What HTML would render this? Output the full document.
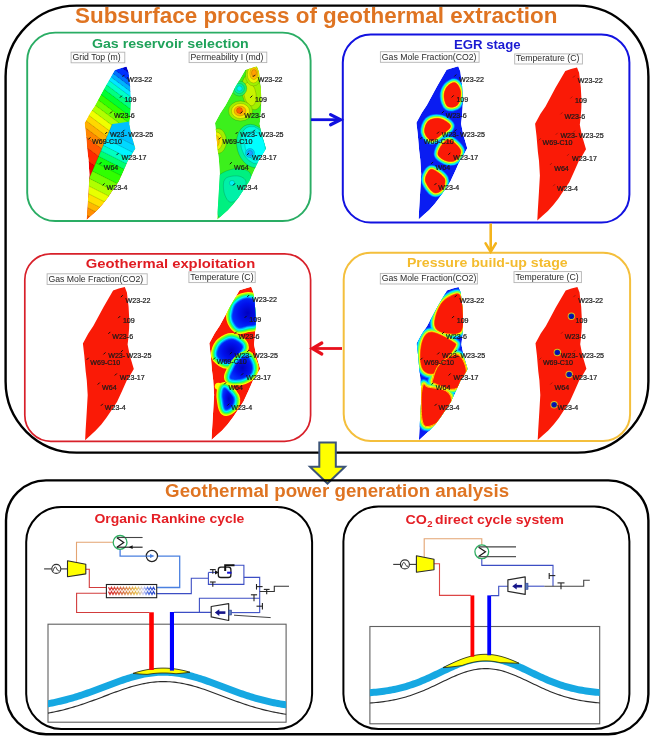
<!DOCTYPE html><html><head><meta charset="utf-8"><style>html,body{margin:0;padding:0;background:#fff;}svg{display:block}.wl{font-family:"Liberation Sans",Arial,sans-serif;font-size:7.1px;stroke:#1a1a1a;stroke-width:0.22px;}.lb{font-family:"Liberation Sans",Arial,sans-serif;font-size:8.7px;fill:#2a2a2a;}.tt{font-family:"Liberation Sans",Arial,sans-serif;font-weight:bold;}</style></head><body>
<svg width="655" height="742" viewBox="0 0 655 742">
<rect width="655" height="742" fill="#ffffff"/>
<defs>
<clipPath id="clipA"><path d="M114.8,70.1 L120.5,68.2 L126.5,66.6 L128.6,72.0 L130.3,86.4 L131.0,100.0 L130.8,108.0 L130.0,118.0 L129.3,124.0 L131.5,135.0 L135.5,148.5 L132.0,154.5 L128.4,160.0 L124.0,170.0 L118.8,181.4 L113.0,190.0 L108.1,197.4 L103.0,204.0 L97.4,210.2 L92.0,215.0 L86.8,219.8 L87.3,210.0 L88.4,192.0 L89.4,174.6 L88.5,160.0 L87.4,151.2 L86.0,135.0 L84.6,123.0 L90.0,113.0 L95.0,105.6 L105.0,87.0 Z"/></clipPath>
<clipPath id="clipB"><path d="M245.2,70.1 L250.9,68.2 L256.9,66.6 L259.0,72.0 L260.7,86.4 L261.4,100.0 L261.2,108.0 L260.4,118.0 L259.7,124.0 L261.9,135.0 L265.9,148.5 L262.4,154.5 L258.8,160.0 L254.4,170.0 L249.2,181.4 L243.4,190.0 L238.5,197.4 L233.4,204.0 L227.8,210.2 L222.4,215.0 L217.2,219.8 L217.7,210.0 L218.8,192.0 L219.8,174.6 L218.9,160.0 L217.8,151.2 L216.4,135.0 L215.0,123.0 L220.4,113.0 L225.4,105.6 L235.4,87.0 Z"/></clipPath>
<clipPath id="clipC"><path d="M446.6,69.8 L452.3,67.9 L458.3,66.3 L460.4,71.7 L462.1,86.1 L462.8,99.7 L462.6,107.7 L461.8,117.7 L461.1,123.7 L463.3,134.7 L467.3,148.2 L463.8,154.2 L460.2,159.7 L455.8,169.7 L450.6,181.1 L444.8,189.7 L439.9,197.1 L434.8,203.7 L429.2,209.9 L423.8,214.7 L418.6,219.5 L419.1,209.7 L420.2,191.7 L421.2,174.3 L420.3,159.7 L419.2,150.9 L417.8,134.7 L416.4,122.7 L421.8,112.7 L426.8,105.3 L436.8,86.7 Z"/></clipPath>
<clipPath id="clipD"><path d="M565.3,70.9 L571.0,69.0 L577.0,67.4 L579.1,72.8 L580.8,87.2 L581.5,100.8 L581.3,108.8 L580.5,118.8 L579.8,124.8 L582.0,135.8 L586.0,149.3 L582.5,155.3 L578.9,160.8 L574.5,170.8 L569.3,182.2 L563.5,190.8 L558.6,198.2 L553.5,204.8 L547.9,211.0 L542.5,215.8 L537.3,220.6 L537.8,210.8 L538.9,192.8 L539.9,175.4 L539.0,160.8 L537.9,152.0 L536.5,135.8 L535.1,123.8 L540.5,113.8 L545.5,106.4 L555.5,87.8 Z"/></clipPath>
<clipPath id="clipE"><path d="M113.1,290.5 L118.8,288.6 L124.8,287.0 L126.9,292.4 L128.6,306.8 L129.3,320.4 L129.1,328.4 L128.3,338.4 L127.6,344.4 L129.8,355.4 L133.8,368.9 L130.3,374.9 L126.7,380.4 L122.3,390.4 L117.1,401.8 L111.3,410.4 L106.4,417.8 L101.3,424.4 L95.7,430.6 L90.3,435.4 L85.1,440.2 L85.6,430.4 L86.7,412.4 L87.7,395.0 L86.8,380.4 L85.7,371.6 L84.3,355.4 L82.9,343.4 L88.3,333.4 L93.3,326.0 L103.3,307.4 Z"/></clipPath>
<clipPath id="clipF"><path d="M239.5,290.3 L245.2,288.4 L251.2,286.8 L253.3,292.2 L255.0,306.6 L255.7,320.2 L255.5,328.2 L254.7,338.2 L254.0,344.2 L256.2,355.2 L260.2,368.7 L256.7,374.7 L253.1,380.2 L248.7,390.2 L243.5,401.6 L237.7,410.2 L232.8,417.6 L227.7,424.2 L222.1,430.4 L216.7,435.2 L211.5,440.0 L212.0,430.2 L213.1,412.2 L214.1,394.8 L213.2,380.2 L212.1,371.4 L210.7,355.2 L209.3,343.2 L214.7,333.2 L219.7,325.8 L229.7,307.2 Z"/></clipPath>
<clipPath id="clipG"><path d="M446.9,290.5 L452.6,288.6 L458.6,287.0 L460.7,292.4 L462.4,306.8 L463.1,320.4 L462.9,328.4 L462.1,338.4 L461.4,344.4 L463.6,355.4 L467.6,368.9 L464.1,374.9 L460.5,380.4 L456.1,390.4 L450.9,401.8 L445.1,410.4 L440.2,417.8 L435.1,424.4 L429.5,430.6 L424.1,435.4 L418.9,440.2 L419.4,430.4 L420.5,412.4 L421.5,395.0 L420.6,380.4 L419.5,371.6 L418.1,355.4 L416.7,343.4 L422.1,333.4 L427.1,326.0 L437.1,307.4 Z"/></clipPath>
<clipPath id="clipH"><path d="M565.7,290.4 L571.4,288.5 L577.4,286.9 L579.5,292.3 L581.2,306.7 L581.9,320.3 L581.7,328.3 L580.9,338.3 L580.2,344.3 L582.4,355.3 L586.4,368.8 L582.9,374.8 L579.3,380.3 L574.9,390.3 L569.7,401.7 L563.9,410.3 L559.0,417.7 L553.9,424.3 L548.3,430.5 L542.9,435.3 L537.7,440.1 L538.2,430.3 L539.3,412.3 L540.3,394.9 L539.4,380.3 L538.3,371.5 L536.9,355.3 L535.5,343.3 L540.9,333.3 L545.9,325.9 L555.9,307.3 Z"/></clipPath>
<linearGradient id="gA1" gradientUnits="userSpaceOnUse" x1="128.0" y1="66.0" x2="62.0" y2="154.0"><stop offset="0.000" stop-color="#0000d0"/><stop offset="0.045" stop-color="#0000d0"/><stop offset="0.045" stop-color="#0030ff"/><stop offset="0.100" stop-color="#0030ff"/><stop offset="0.100" stop-color="#0070ff"/><stop offset="0.136" stop-color="#0070ff"/><stop offset="0.136" stop-color="#00b0ff"/><stop offset="0.173" stop-color="#00b0ff"/><stop offset="0.173" stop-color="#00e8ff"/><stop offset="0.209" stop-color="#00e8ff"/><stop offset="0.209" stop-color="#00ffc8"/><stop offset="0.255" stop-color="#00ffc8"/><stop offset="0.255" stop-color="#00ff80"/><stop offset="0.300" stop-color="#00ff80"/><stop offset="0.300" stop-color="#00ff30"/><stop offset="0.355" stop-color="#00ff30"/><stop offset="0.355" stop-color="#30ff00"/><stop offset="0.409" stop-color="#30ff00"/><stop offset="0.409" stop-color="#70ff00"/><stop offset="0.464" stop-color="#70ff00"/><stop offset="0.464" stop-color="#b0ff00"/><stop offset="0.518" stop-color="#b0ff00"/><stop offset="0.518" stop-color="#f0ff00"/><stop offset="0.573" stop-color="#f0ff00"/><stop offset="0.573" stop-color="#ffd800"/><stop offset="0.627" stop-color="#ffd800"/><stop offset="0.627" stop-color="#ffb000"/><stop offset="0.682" stop-color="#ffb000"/><stop offset="0.682" stop-color="#ff8800"/><stop offset="0.745" stop-color="#ff8800"/><stop offset="0.745" stop-color="#ff5800"/><stop offset="0.818" stop-color="#ff5800"/><stop offset="0.818" stop-color="#ff2800"/><stop offset="0.909" stop-color="#ff2800"/><stop offset="0.909" stop-color="#f00000"/><stop offset="1.000" stop-color="#f00000"/></linearGradient>
<linearGradient id="gA2" gradientUnits="userSpaceOnUse" x1="132.0" y1="133.0" x2="87.0" y2="222.0"><stop offset="0.000" stop-color="#00c0ff"/><stop offset="0.100" stop-color="#00c0ff"/><stop offset="0.100" stop-color="#00d8ff"/><stop offset="0.170" stop-color="#00d8ff"/><stop offset="0.170" stop-color="#00f4ff"/><stop offset="0.240" stop-color="#00f4ff"/><stop offset="0.240" stop-color="#00ffc0"/><stop offset="0.300" stop-color="#00ffc0"/><stop offset="0.300" stop-color="#00ff70"/><stop offset="0.360" stop-color="#00ff70"/><stop offset="0.360" stop-color="#10ff10"/><stop offset="0.430" stop-color="#10ff10"/><stop offset="0.430" stop-color="#30ff00"/><stop offset="0.520" stop-color="#30ff00"/><stop offset="0.520" stop-color="#70ff00"/><stop offset="0.600" stop-color="#70ff00"/><stop offset="0.600" stop-color="#b0ff00"/><stop offset="0.670" stop-color="#b0ff00"/><stop offset="0.670" stop-color="#e8ff00"/><stop offset="0.740" stop-color="#e8ff00"/><stop offset="0.740" stop-color="#ffe000"/><stop offset="0.810" stop-color="#ffe000"/><stop offset="0.810" stop-color="#ffb800"/><stop offset="0.870" stop-color="#ffb800"/><stop offset="0.870" stop-color="#ff9000"/><stop offset="0.940" stop-color="#ff9000"/><stop offset="0.940" stop-color="#ff6000"/><stop offset="1.000" stop-color="#ff6000"/></linearGradient>
<radialGradient id="radF" cx="0.55" cy="0.5" r="0.6"><stop offset="0" stop-color="#0000c0"/><stop offset="0.55" stop-color="#0010ec"/><stop offset="1" stop-color="#0034ff"/></radialGradient>
</defs>
<rect x="5.6" y="5.6" width="642.8" height="447.0" rx="71.0" ry="71.0" fill="none" stroke="#000" stroke-width="2.4"/>
<rect x="27.2" y="32.6" width="283.4" height="188.4" rx="28.0" ry="28.0" fill="none" stroke="#2aad64" stroke-width="1.9"/>
<rect x="342.8" y="34.6" width="286.6" height="188.0" rx="28.0" ry="28.0" fill="none" stroke="#1212e0" stroke-width="2.0"/>
<rect x="24.8" y="253.8" width="285.8" height="187.5" rx="26.0" ry="26.0" fill="none" stroke="#d8202a" stroke-width="1.7"/>
<rect x="343.7" y="252.8" width="286.4" height="188.1" rx="27.0" ry="27.0" fill="none" stroke="#f4bf3c" stroke-width="2.0"/>
<text x="75.0" y="23.0" class="tt" font-size="22.6" fill="#df7422" textLength="482.5" lengthAdjust="spacingAndGlyphs">Subsurface process of geothermal extraction</text>
<text x="91.9" y="48.1" class="tt" font-size="13.4" fill="#1fa25a" textLength="156.9" lengthAdjust="spacingAndGlyphs">Gas reservoir selection</text>
<text x="453.9" y="48.5" class="tt" font-size="13.0" fill="#1a1ad2" textLength="66.7" lengthAdjust="spacingAndGlyphs">EGR stage</text>
<text x="85.8" y="268.2" class="tt" font-size="13.4" fill="#e01c22" textLength="169.4" lengthAdjust="spacingAndGlyphs">Geothermal exploitation</text>
<text x="406.9" y="267.2" class="tt" font-size="13.6" fill="#f4bc2e" textLength="160.8" lengthAdjust="spacingAndGlyphs">Pressure build-up stage</text>
<line x1="311" y1="119.7" x2="340" y2="119.7" stroke="#1010e0" stroke-width="2.8"/><polyline points="330.6,114.6 340.6,119.7 330.6,124.8" fill="none" stroke="#1010e0" stroke-width="3.2" stroke-linecap="round" stroke-linejoin="miter"/>
<line x1="490.7" y1="223.5" x2="490.7" y2="250" stroke="#f4b41c" stroke-width="2.6"/><polyline points="485.6,243.4 490.7,251.8 495.8,243.4" fill="none" stroke="#f4b41c" stroke-width="2.6" stroke-linecap="round"/>
<line x1="313" y1="348.5" x2="342" y2="348.5" stroke="#e8101c" stroke-width="2.8"/><polyline points="321.8,343 312.4,348.5 321.8,354" fill="none" stroke="#e8101c" stroke-width="3.2" stroke-linecap="round"/>
<rect x="71.1" y="52.2" width="53.7" height="10.6" fill="#fdfdfd" stroke="#b4b4b4" stroke-width="0.9"/><text x="72.5" y="60.2" class="lb">Grid Top (m)</text>
<rect x="189.1" y="52.1" width="77.7" height="10.5" fill="#fdfdfd" stroke="#b4b4b4" stroke-width="0.9"/><text x="190.5" y="60.0" class="lb">Permeability I (md)</text>
<rect x="380.4" y="51.7" width="98.7" height="10.6" fill="#fdfdfd" stroke="#b4b4b4" stroke-width="0.9"/><text x="381.8" y="59.7" class="lb">Gas Mole Fraction(CO2)</text>
<rect x="514.7" y="53.9" width="67.7" height="10.1" fill="#fdfdfd" stroke="#b4b4b4" stroke-width="0.9"/><text x="516.1" y="61.4" class="lb">Temperature (C)</text>
<rect x="47.1" y="273.8" width="100.1" height="10.7" fill="#fdfdfd" stroke="#b4b4b4" stroke-width="0.9"/><text x="48.5" y="281.9" class="lb">Gas Mole Fraction(CO2)</text>
<rect x="188.9" y="271.8" width="66.3" height="10.8" fill="#fdfdfd" stroke="#b4b4b4" stroke-width="0.9"/><text x="190.3" y="280.0" class="lb">Temperature (C)</text>
<rect x="380.3" y="273.4" width="97.1" height="10.6" fill="#fdfdfd" stroke="#b4b4b4" stroke-width="0.9"/><text x="381.7" y="281.4" class="lb">Gas Mole Fraction(CO2)</text>
<rect x="514.0" y="271.6" width="67.4" height="11.0" fill="#fdfdfd" stroke="#b4b4b4" stroke-width="0.9"/><text x="515.4" y="280.0" class="lb">Temperature (C)</text>
<g clip-path="url(#clipA)">
<path d="M114.8,70.1 L120.5,68.2 L126.5,66.6 L128.6,72.0 L130.3,86.4 L131.0,100.0 L130.8,108.0 L130.0,118.0 L129.3,124.0 L131.5,135.0 L135.5,148.5 L132.0,154.5 L128.4,160.0 L124.0,170.0 L118.8,181.4 L113.0,190.0 L108.1,197.4 L103.0,204.0 L97.4,210.2 L92.0,215.0 L86.8,219.8 L87.3,210.0 L88.4,192.0 L89.4,174.6 L88.5,160.0 L87.4,151.2 L86.0,135.0 L84.6,123.0 L90.0,113.0 L95.0,105.6 L105.0,87.0 Z" fill="url(#gA1)"/>
<g stroke="#000" stroke-opacity="0.32" stroke-width="0.5"><line x1="189.0" y1="118.0" x2="61.0" y2="22.0"/><line x1="185.4" y1="122.8" x2="57.4" y2="26.8"/><line x1="183.0" y1="126.0" x2="55.0" y2="30.0"/><line x1="180.6" y1="129.2" x2="52.6" y2="33.2"/><line x1="178.2" y1="132.4" x2="50.2" y2="36.4"/><line x1="175.2" y1="136.4" x2="47.2" y2="40.4"/><line x1="172.2" y1="140.4" x2="44.2" y2="44.4"/><line x1="168.6" y1="145.2" x2="40.6" y2="49.2"/><line x1="165.0" y1="150.0" x2="37.0" y2="54.0"/><line x1="161.4" y1="154.8" x2="33.4" y2="58.8"/><line x1="157.8" y1="159.6" x2="29.8" y2="63.6"/><line x1="154.2" y1="164.4" x2="26.2" y2="68.4"/><line x1="150.6" y1="169.2" x2="22.6" y2="73.2"/><line x1="147.0" y1="174.0" x2="19.0" y2="78.0"/><line x1="142.8" y1="179.6" x2="14.8" y2="83.6"/><line x1="138.0" y1="186.0" x2="10.0" y2="90.0"/><line x1="132.0" y1="194.0" x2="4.0" y2="98.0"/></g>
<polygon points="129.3,121.5 131.5,135.0 135.5,148.5 132.0,154.5 128.4,160.0 124.0,170.0 118.8,181.4 113.0,190.0 108.1,197.4 103.0,204.0 97.4,210.2 92.0,215.0 86.8,219.8 86.0,222.0 84.0,222.0 87.3,210.0 88.4,192.0 89.4,177.8 112.3,124.1 120.0,123.0" fill="url(#gA2)"/>
<clipPath id="clipLB"><polygon points="129.3,121.5 131.5,135.0 135.5,148.5 132.0,154.5 128.4,160.0 124.0,170.0 118.8,181.4 113.0,190.0 108.1,197.4 103.0,204.0 97.4,210.2 92.0,215.0 86.8,219.8 86.0,222.0 84.0,222.0 87.3,210.0 88.4,192.0 89.4,177.8 112.3,124.1 120.0,123.0"/></clipPath>
<g clip-path="url(#clipLB)" stroke="#000" stroke-opacity="0.32" stroke-width="0.5"><line x1="198.9" y1="178.0" x2="56.1" y2="105.8"/><line x1="195.7" y1="184.2" x2="53.0" y2="112.0"/><line x1="192.6" y1="190.5" x2="49.8" y2="118.3"/><line x1="189.9" y1="195.8" x2="47.1" y2="123.6"/><line x1="187.2" y1="201.1" x2="44.4" y2="128.9"/><line x1="184.0" y1="207.4" x2="41.3" y2="135.2"/><line x1="180.0" y1="215.4" x2="37.2" y2="143.2"/><line x1="176.4" y1="222.5" x2="33.6" y2="150.3"/><line x1="173.2" y1="228.7" x2="30.5" y2="156.5"/><line x1="170.1" y1="235.0" x2="27.3" y2="162.8"/><line x1="166.9" y1="241.2" x2="24.2" y2="169.0"/><line x1="164.2" y1="246.5" x2="21.5" y2="174.3"/><line x1="161.1" y1="252.8" x2="18.3" y2="180.6"/></g>
<polyline points="112.3,124.1 89.4,177.8" fill="none" stroke="#000" stroke-opacity="0.32" stroke-width="0.5"/>
</g>
<g clip-path="url(#clipB)">
<path d="M245.2,70.1 L250.9,68.2 L256.9,66.6 L259.0,72.0 L260.7,86.4 L261.4,100.0 L261.2,108.0 L260.4,118.0 L259.7,124.0 L261.9,135.0 L265.9,148.5 L262.4,154.5 L258.8,160.0 L254.4,170.0 L249.2,181.4 L243.4,190.0 L238.5,197.4 L233.4,204.0 L227.8,210.2 L222.4,215.0 L217.2,219.8 L217.7,210.0 L218.8,192.0 L219.8,174.6 L218.9,160.0 L217.8,151.2 L216.4,135.0 L215.0,123.0 L220.4,113.0 L225.4,105.6 L235.4,87.0 Z" fill="#3cf01c"/>
<ellipse cx="252.0" cy="92.0" rx="10.0" ry="18.0" fill="#a0f000" transform="rotate(-10.0 252.0 92.0)" stroke="#000" stroke-opacity="0.3" stroke-width="0.5"/>
<ellipse cx="250.0" cy="94.0" rx="6.0" ry="12.0" fill="#c8f400" transform="rotate(-10.0 250.0 94.0)" stroke="#000" stroke-opacity="0.3" stroke-width="0.5"/>
<ellipse cx="253.4" cy="75.0" rx="8.0" ry="11.0" fill="#a0f000" transform="rotate(0.0 253.4 75.0)" stroke="#000" stroke-opacity="0.3" stroke-width="0.5"/><ellipse cx="253.4" cy="74.5" rx="6.0" ry="8.5" fill="#f0f000" transform="rotate(0.0 253.4 74.5)" stroke="#000" stroke-opacity="0.3" stroke-width="0.5"/><ellipse cx="253.8" cy="73.5" rx="4.0" ry="6.0" fill="#ffc000" transform="rotate(0.0 253.8 73.5)" stroke="#000" stroke-opacity="0.3" stroke-width="0.5"/><ellipse cx="254.0" cy="73.0" rx="2.5" ry="3.5" fill="#ffa000" transform="rotate(0.0 254.0 73.0)" stroke="#000" stroke-opacity="0.3" stroke-width="0.5"/>
<ellipse cx="239.3" cy="88.5" rx="7.5" ry="7.5" fill="#20f060" opacity="1.00" stroke="#000" stroke-opacity="0.3" stroke-width="0.5"/><ellipse cx="239.3" cy="88.5" rx="5.0" ry="5.0" fill="#00f0a8" opacity="1.00" stroke="#000" stroke-opacity="0.3" stroke-width="0.5"/><ellipse cx="239.5" cy="88.5" rx="2.6" ry="2.6" fill="#00f0f0" opacity="1.00" stroke="#000" stroke-opacity="0.3" stroke-width="0.5"/>
<ellipse cx="240.5" cy="111.0" rx="12.0" ry="10.0" fill="#a0f000" transform="rotate(0.0 240.5 111.0)" stroke="#000" stroke-opacity="0.3" stroke-width="0.5"/><ellipse cx="240.5" cy="111.0" rx="9.0" ry="7.5" fill="#f0f000" transform="rotate(0.0 240.5 111.0)" stroke="#000" stroke-opacity="0.3" stroke-width="0.5"/><ellipse cx="240.0" cy="111.0" rx="6.0" ry="5.0" fill="#ffb000" transform="rotate(0.0 240.0 111.0)" stroke="#000" stroke-opacity="0.3" stroke-width="0.5"/><ellipse cx="239.5" cy="110.5" rx="3.0" ry="3.0" fill="#ff6000" opacity="1.00" stroke="#000" stroke-opacity="0.3" stroke-width="0.5"/>
<ellipse cx="253.0" cy="146.0" rx="16.0" ry="22.0" fill="#00f0a0" transform="rotate(-15.0 253.0 146.0)" stroke="#000" stroke-opacity="0.3" stroke-width="0.5"/><ellipse cx="254.0" cy="145.0" rx="13.0" ry="19.0" fill="#00f8e0" transform="rotate(-15.0 254.0 145.0)" stroke="#000" stroke-opacity="0.3" stroke-width="0.5"/><ellipse cx="255.0" cy="146.0" rx="10.0" ry="15.0" fill="#00ffff" transform="rotate(-15.0 255.0 146.0)" stroke="#000" stroke-opacity="0.3" stroke-width="0.5"/>
<ellipse cx="250.0" cy="153.0" rx="4.5" ry="4.5" fill="#00c8ff" opacity="1.00" stroke="#000" stroke-opacity="0.3" stroke-width="0.5"/><ellipse cx="250.0" cy="153.0" rx="2.5" ry="2.5" fill="#20a0ff" opacity="1.00" stroke="#000" stroke-opacity="0.3" stroke-width="0.5"/>
<ellipse cx="218.0" cy="141.0" rx="8.5" ry="12.5" fill="#a0f000" transform="rotate(0.0 218.0 141.0)" stroke="#000" stroke-opacity="0.3" stroke-width="0.5"/><ellipse cx="216.5" cy="141.0" rx="6.0" ry="9.0" fill="#f0f000" transform="rotate(0.0 216.5 141.0)" stroke="#000" stroke-opacity="0.3" stroke-width="0.5"/><ellipse cx="215.5" cy="141.0" rx="3.8" ry="6.0" fill="#ffc000" transform="rotate(0.0 215.5 141.0)" stroke="#000" stroke-opacity="0.3" stroke-width="0.5"/>
<path d="M217.0,178.0 C219.8,172.8 227.8,170.2 233.0,169.0 C238.2,167.8 245.0,169.0 248.0,171.0 C251.0,173.0 251.8,176.3 251.0,181.0 C250.2,185.7 246.7,193.7 243.0,199.0 C239.3,204.3 233.0,210.0 229.0,213.0 C225.0,216.0 221.2,219.2 219.0,217.0 C216.8,214.8 216.3,206.5 216.0,200.0 C215.7,193.5 214.2,183.2 217.0,178.0 Z" fill="#00f080" stroke="#000" stroke-opacity="0.3" stroke-width="0.5"/>
<path d="M225.0,179.0 C227.3,176.3 234.5,175.5 238.0,176.0 C241.5,176.5 245.7,178.5 246.0,182.0 C246.3,185.5 242.7,193.7 240.0,197.0 C237.3,200.3 232.7,202.8 230.0,202.0 C227.3,201.2 224.8,195.8 224.0,192.0 C223.2,188.2 222.7,181.7 225.0,179.0 Z" fill="#00f0a8" stroke="#000" stroke-opacity="0.3" stroke-width="0.5"/>
<ellipse cx="232.0" cy="183.0" rx="2.6" ry="2.6" fill="#00f0f0" opacity="1.00" stroke="#000" stroke-opacity="0.3" stroke-width="0.5"/>
</g>
<g clip-path="url(#clipC)">
<path d="M446.6,69.8 L452.3,67.9 L458.3,66.3 L460.4,71.7 L462.1,86.1 L462.8,99.7 L462.6,107.7 L461.8,117.7 L461.1,123.7 L463.3,134.7 L467.3,148.2 L463.8,154.2 L460.2,159.7 L455.8,169.7 L450.6,181.1 L444.8,189.7 L439.9,197.1 L434.8,203.7 L429.2,209.9 L423.8,214.7 L418.6,219.5 L419.1,209.7 L420.2,191.7 L421.2,174.3 L420.3,159.7 L419.2,150.9 L417.8,134.7 L416.4,122.7 L421.8,112.7 L426.8,105.3 L436.8,86.7 Z" fill="#0a1cf2"/>
<path d="M455.3,82.8 C457.6,83.7 460.3,88.3 460.7,92.0 C461.1,95.7 459.6,102.5 457.5,104.9 C455.4,107.3 450.1,107.9 447.8,106.5 C445.6,105.1 444.1,99.6 444.0,96.3 C443.9,93.0 445.3,88.8 447.2,86.6 C449.1,84.3 453.1,81.9 455.3,82.8 Z" fill="#0070ff" stroke="#0070ff" stroke-width="8.6" stroke-linejoin="round"/><path d="M439.1,118.4 C442.5,118.8 447.0,121.7 448.8,123.3 C450.6,124.9 451.0,126.2 449.9,128.0 C448.8,129.8 445.4,131.9 442.4,134.0 C439.3,136.1 434.6,140.8 431.6,140.5 C428.6,140.2 425.2,135.2 424.6,132.0 C424.1,128.8 425.9,123.4 428.3,121.1 C430.7,118.8 435.7,118.0 439.1,118.4 Z" fill="#0070ff" stroke="#0070ff" stroke-width="8.6" stroke-linejoin="round"/><path d="M451.0,140.3 C453.7,141.7 459.8,147.3 460.7,150.5 C461.6,153.7 458.5,157.9 456.4,159.7 C454.2,161.5 450.8,161.9 447.8,161.3 C444.8,160.7 440.1,157.9 438.6,155.9 C437.2,153.9 438.1,151.7 439.1,149.4 C440.1,147.1 442.5,143.4 444.5,141.9 C446.5,140.4 448.3,138.9 451.0,140.3 Z" fill="#0070ff" stroke="#0070ff" stroke-width="8.6" stroke-linejoin="round"/><path d="M432.7,169.4 C435.6,170.3 442.9,175.3 444.5,178.6 C446.1,181.9 444.2,187.1 442.4,189.4 C440.6,191.7 436.5,193.9 433.7,192.6 C430.9,191.3 426.7,185.0 425.6,181.8 C424.5,178.6 426.1,175.3 427.3,173.2 C428.5,171.1 429.8,168.5 432.7,169.4 Z" fill="#0070ff" stroke="#0070ff" stroke-width="8.6" stroke-linejoin="round"/><path d="M455.3,82.8 C457.6,83.7 460.3,88.3 460.7,92.0 C461.1,95.7 459.6,102.5 457.5,104.9 C455.4,107.3 450.1,107.9 447.8,106.5 C445.6,105.1 444.1,99.6 444.0,96.3 C443.9,93.0 445.3,88.8 447.2,86.6 C449.1,84.3 453.1,81.9 455.3,82.8 Z" fill="#00e8ff" stroke="#00e8ff" stroke-width="7.0" stroke-linejoin="round"/><path d="M439.1,118.4 C442.5,118.8 447.0,121.7 448.8,123.3 C450.6,124.9 451.0,126.2 449.9,128.0 C448.8,129.8 445.4,131.9 442.4,134.0 C439.3,136.1 434.6,140.8 431.6,140.5 C428.6,140.2 425.2,135.2 424.6,132.0 C424.1,128.8 425.9,123.4 428.3,121.1 C430.7,118.8 435.7,118.0 439.1,118.4 Z" fill="#00e8ff" stroke="#00e8ff" stroke-width="7.0" stroke-linejoin="round"/><path d="M451.0,140.3 C453.7,141.7 459.8,147.3 460.7,150.5 C461.6,153.7 458.5,157.9 456.4,159.7 C454.2,161.5 450.8,161.9 447.8,161.3 C444.8,160.7 440.1,157.9 438.6,155.9 C437.2,153.9 438.1,151.7 439.1,149.4 C440.1,147.1 442.5,143.4 444.5,141.9 C446.5,140.4 448.3,138.9 451.0,140.3 Z" fill="#00e8ff" stroke="#00e8ff" stroke-width="7.0" stroke-linejoin="round"/><path d="M432.7,169.4 C435.6,170.3 442.9,175.3 444.5,178.6 C446.1,181.9 444.2,187.1 442.4,189.4 C440.6,191.7 436.5,193.9 433.7,192.6 C430.9,191.3 426.7,185.0 425.6,181.8 C424.5,178.6 426.1,175.3 427.3,173.2 C428.5,171.1 429.8,168.5 432.7,169.4 Z" fill="#00e8ff" stroke="#00e8ff" stroke-width="7.0" stroke-linejoin="round"/><path d="M455.3,82.8 C457.6,83.7 460.3,88.3 460.7,92.0 C461.1,95.7 459.6,102.5 457.5,104.9 C455.4,107.3 450.1,107.9 447.8,106.5 C445.6,105.1 444.1,99.6 444.0,96.3 C443.9,93.0 445.3,88.8 447.2,86.6 C449.1,84.3 453.1,81.9 455.3,82.8 Z" fill="#70ff50" stroke="#70ff50" stroke-width="4.8" stroke-linejoin="round"/><path d="M439.1,118.4 C442.5,118.8 447.0,121.7 448.8,123.3 C450.6,124.9 451.0,126.2 449.9,128.0 C448.8,129.8 445.4,131.9 442.4,134.0 C439.3,136.1 434.6,140.8 431.6,140.5 C428.6,140.2 425.2,135.2 424.6,132.0 C424.1,128.8 425.9,123.4 428.3,121.1 C430.7,118.8 435.7,118.0 439.1,118.4 Z" fill="#70ff50" stroke="#70ff50" stroke-width="4.8" stroke-linejoin="round"/><path d="M451.0,140.3 C453.7,141.7 459.8,147.3 460.7,150.5 C461.6,153.7 458.5,157.9 456.4,159.7 C454.2,161.5 450.8,161.9 447.8,161.3 C444.8,160.7 440.1,157.9 438.6,155.9 C437.2,153.9 438.1,151.7 439.1,149.4 C440.1,147.1 442.5,143.4 444.5,141.9 C446.5,140.4 448.3,138.9 451.0,140.3 Z" fill="#70ff50" stroke="#70ff50" stroke-width="4.8" stroke-linejoin="round"/><path d="M432.7,169.4 C435.6,170.3 442.9,175.3 444.5,178.6 C446.1,181.9 444.2,187.1 442.4,189.4 C440.6,191.7 436.5,193.9 433.7,192.6 C430.9,191.3 426.7,185.0 425.6,181.8 C424.5,178.6 426.1,175.3 427.3,173.2 C428.5,171.1 429.8,168.5 432.7,169.4 Z" fill="#70ff50" stroke="#70ff50" stroke-width="4.8" stroke-linejoin="round"/><path d="M455.3,82.8 C457.6,83.7 460.3,88.3 460.7,92.0 C461.1,95.7 459.6,102.5 457.5,104.9 C455.4,107.3 450.1,107.9 447.8,106.5 C445.6,105.1 444.1,99.6 444.0,96.3 C443.9,93.0 445.3,88.8 447.2,86.6 C449.1,84.3 453.1,81.9 455.3,82.8 Z" fill="#ffff00" stroke="#ffff00" stroke-width="2.6" stroke-linejoin="round"/><path d="M439.1,118.4 C442.5,118.8 447.0,121.7 448.8,123.3 C450.6,124.9 451.0,126.2 449.9,128.0 C448.8,129.8 445.4,131.9 442.4,134.0 C439.3,136.1 434.6,140.8 431.6,140.5 C428.6,140.2 425.2,135.2 424.6,132.0 C424.1,128.8 425.9,123.4 428.3,121.1 C430.7,118.8 435.7,118.0 439.1,118.4 Z" fill="#ffff00" stroke="#ffff00" stroke-width="2.6" stroke-linejoin="round"/><path d="M451.0,140.3 C453.7,141.7 459.8,147.3 460.7,150.5 C461.6,153.7 458.5,157.9 456.4,159.7 C454.2,161.5 450.8,161.9 447.8,161.3 C444.8,160.7 440.1,157.9 438.6,155.9 C437.2,153.9 438.1,151.7 439.1,149.4 C440.1,147.1 442.5,143.4 444.5,141.9 C446.5,140.4 448.3,138.9 451.0,140.3 Z" fill="#ffff00" stroke="#ffff00" stroke-width="2.6" stroke-linejoin="round"/><path d="M432.7,169.4 C435.6,170.3 442.9,175.3 444.5,178.6 C446.1,181.9 444.2,187.1 442.4,189.4 C440.6,191.7 436.5,193.9 433.7,192.6 C430.9,191.3 426.7,185.0 425.6,181.8 C424.5,178.6 426.1,175.3 427.3,173.2 C428.5,171.1 429.8,168.5 432.7,169.4 Z" fill="#ffff00" stroke="#ffff00" stroke-width="2.6" stroke-linejoin="round"/><path d="M455.3,82.8 C457.6,83.7 460.3,88.3 460.7,92.0 C461.1,95.7 459.6,102.5 457.5,104.9 C455.4,107.3 450.1,107.9 447.8,106.5 C445.6,105.1 444.1,99.6 444.0,96.3 C443.9,93.0 445.3,88.8 447.2,86.6 C449.1,84.3 453.1,81.9 455.3,82.8 Z" fill="#ff8000" stroke="#ff8000" stroke-width="1.0" stroke-linejoin="round"/><path d="M439.1,118.4 C442.5,118.8 447.0,121.7 448.8,123.3 C450.6,124.9 451.0,126.2 449.9,128.0 C448.8,129.8 445.4,131.9 442.4,134.0 C439.3,136.1 434.6,140.8 431.6,140.5 C428.6,140.2 425.2,135.2 424.6,132.0 C424.1,128.8 425.9,123.4 428.3,121.1 C430.7,118.8 435.7,118.0 439.1,118.4 Z" fill="#ff8000" stroke="#ff8000" stroke-width="1.0" stroke-linejoin="round"/><path d="M451.0,140.3 C453.7,141.7 459.8,147.3 460.7,150.5 C461.6,153.7 458.5,157.9 456.4,159.7 C454.2,161.5 450.8,161.9 447.8,161.3 C444.8,160.7 440.1,157.9 438.6,155.9 C437.2,153.9 438.1,151.7 439.1,149.4 C440.1,147.1 442.5,143.4 444.5,141.9 C446.5,140.4 448.3,138.9 451.0,140.3 Z" fill="#ff8000" stroke="#ff8000" stroke-width="1.0" stroke-linejoin="round"/><path d="M432.7,169.4 C435.6,170.3 442.9,175.3 444.5,178.6 C446.1,181.9 444.2,187.1 442.4,189.4 C440.6,191.7 436.5,193.9 433.7,192.6 C430.9,191.3 426.7,185.0 425.6,181.8 C424.5,178.6 426.1,175.3 427.3,173.2 C428.5,171.1 429.8,168.5 432.7,169.4 Z" fill="#ff8000" stroke="#ff8000" stroke-width="1.0" stroke-linejoin="round"/><path d="M455.3,82.8 C457.6,83.7 460.3,88.3 460.7,92.0 C461.1,95.7 459.6,102.5 457.5,104.9 C455.4,107.3 450.1,107.9 447.8,106.5 C445.6,105.1 444.1,99.6 444.0,96.3 C443.9,93.0 445.3,88.8 447.2,86.6 C449.1,84.3 453.1,81.9 455.3,82.8 Z" fill="#fa1a06"/><path d="M439.1,118.4 C442.5,118.8 447.0,121.7 448.8,123.3 C450.6,124.9 451.0,126.2 449.9,128.0 C448.8,129.8 445.4,131.9 442.4,134.0 C439.3,136.1 434.6,140.8 431.6,140.5 C428.6,140.2 425.2,135.2 424.6,132.0 C424.1,128.8 425.9,123.4 428.3,121.1 C430.7,118.8 435.7,118.0 439.1,118.4 Z" fill="#fa1a06"/><path d="M451.0,140.3 C453.7,141.7 459.8,147.3 460.7,150.5 C461.6,153.7 458.5,157.9 456.4,159.7 C454.2,161.5 450.8,161.9 447.8,161.3 C444.8,160.7 440.1,157.9 438.6,155.9 C437.2,153.9 438.1,151.7 439.1,149.4 C440.1,147.1 442.5,143.4 444.5,141.9 C446.5,140.4 448.3,138.9 451.0,140.3 Z" fill="#fa1a06"/><path d="M432.7,169.4 C435.6,170.3 442.9,175.3 444.5,178.6 C446.1,181.9 444.2,187.1 442.4,189.4 C440.6,191.7 436.5,193.9 433.7,192.6 C430.9,191.3 426.7,185.0 425.6,181.8 C424.5,178.6 426.1,175.3 427.3,173.2 C428.5,171.1 429.8,168.5 432.7,169.4 Z" fill="#fa1a06"/>
</g>
<path d="M565.3,70.9 L571.0,69.0 L577.0,67.4 L579.1,72.8 L580.8,87.2 L581.5,100.8 L581.3,108.8 L580.5,118.8 L579.8,124.8 L582.0,135.8 L586.0,149.3 L582.5,155.3 L578.9,160.8 L574.5,170.8 L569.3,182.2 L563.5,190.8 L558.6,198.2 L553.5,204.8 L547.9,211.0 L542.5,215.8 L537.3,220.6 L537.8,210.8 L538.9,192.8 L539.9,175.4 L539.0,160.8 L537.9,152.0 L536.5,135.8 L535.1,123.8 L540.5,113.8 L545.5,106.4 L555.5,87.8 Z" fill="#fa1a06"/>
<path d="M113.1,290.5 L118.8,288.6 L124.8,287.0 L126.9,292.4 L128.6,306.8 L129.3,320.4 L129.1,328.4 L128.3,338.4 L127.6,344.4 L129.8,355.4 L133.8,368.9 L130.3,374.9 L126.7,380.4 L122.3,390.4 L117.1,401.8 L111.3,410.4 L106.4,417.8 L101.3,424.4 L95.7,430.6 L90.3,435.4 L85.1,440.2 L85.6,430.4 L86.7,412.4 L87.7,395.0 L86.8,380.4 L85.7,371.6 L84.3,355.4 L82.9,343.4 L88.3,333.4 L93.3,326.0 L103.3,307.4 Z" fill="#fa1a06"/>
<g clip-path="url(#clipF)">
<path d="M239.5,290.3 L245.2,288.4 L251.2,286.8 L253.3,292.2 L255.0,306.6 L255.7,320.2 L255.5,328.2 L254.7,338.2 L254.0,344.2 L256.2,355.2 L260.2,368.7 L256.7,374.7 L253.1,380.2 L248.7,390.2 L243.5,401.6 L237.7,410.2 L232.8,417.6 L227.7,424.2 L222.1,430.4 L216.7,435.2 L211.5,440.0 L212.0,430.2 L213.1,412.2 L214.1,394.8 L213.2,380.2 L212.1,371.4 L210.7,355.2 L209.3,343.2 L214.7,333.2 L219.7,325.8 L229.7,307.2 Z" fill="#fa1a06"/>
<ellipse cx="218.3" cy="386.3" rx="3.5" ry="3.5" fill="#ffff00" opacity="1.00" />
<path d="M245.7,298.8 C248.7,298.1 252.0,298.7 254.3,300.8 C256.6,302.9 259.1,307.6 259.6,311.3 C260.2,315.1 259.7,320.9 257.7,323.3 C255.6,325.7 250.7,325.0 247.5,325.7 C244.4,326.3 241.1,328.1 238.8,327.3 C236.4,326.6 234.6,323.2 233.6,321.2 C232.6,319.1 232.3,317.5 232.7,314.8 C233.1,312.1 233.8,307.4 235.9,304.8 C238.1,302.1 242.6,299.4 245.7,298.8 Z" fill="#ffff00" stroke="#ffff00" stroke-width="13.0" stroke-linejoin="round"/><path d="M232.3,339.5 C235.6,339.9 241.8,343.7 242.3,346.5 C242.9,349.3 238.0,353.5 235.5,356.1 C233.0,358.7 230.2,362.1 227.4,362.3 C224.6,362.5 220.4,359.3 218.8,357.5 C217.2,355.8 217.1,354.1 217.7,351.8 C218.3,349.5 219.8,345.8 222.2,343.7 C224.6,341.7 228.9,339.0 232.3,339.5 Z" fill="#ffff00" stroke="#ffff00" stroke-width="13.0" stroke-linejoin="round"/><path d="M246.3,356.8 C248.6,357.3 251.0,362.5 251.8,365.1 C252.6,367.8 251.9,370.7 251.2,372.4 C250.4,374.2 249.0,374.8 247.3,375.9 C245.5,376.9 243.3,378.3 240.6,378.7 C237.8,379.1 232.1,379.6 230.9,378.3 C229.6,377.0 231.6,373.7 232.8,371.0 C233.9,368.3 235.6,364.5 237.8,362.1 C240.1,359.8 243.9,356.3 246.3,356.8 Z" fill="#ffff00" stroke="#ffff00" stroke-width="13.0" stroke-linejoin="round"/><path d="M224.6,388.6 C225.9,388.5 229.2,392.5 230.8,394.2 C232.3,396.0 233.6,397.2 233.7,399.2 C233.9,401.2 233.0,404.5 231.6,406.1 C230.2,407.8 226.9,410.1 225.5,409.1 C224.1,408.1 223.8,402.7 223.4,400.3 C222.9,397.9 222.7,396.7 222.9,394.8 C223.1,392.8 223.2,388.6 224.6,388.6 Z" fill="#ffff00" stroke="#ffff00" stroke-width="13.0" stroke-linejoin="round"/><path d="M245.7,298.8 C248.7,298.1 252.0,298.7 254.3,300.8 C256.6,302.9 259.1,307.6 259.6,311.3 C260.2,315.1 259.7,320.9 257.7,323.3 C255.6,325.7 250.7,325.0 247.5,325.7 C244.4,326.3 241.1,328.1 238.8,327.3 C236.4,326.6 234.6,323.2 233.6,321.2 C232.6,319.1 232.3,317.5 232.7,314.8 C233.1,312.1 233.8,307.4 235.9,304.8 C238.1,302.1 242.6,299.4 245.7,298.8 Z" fill="#c0ff00" stroke="#c0ff00" stroke-width="11.4" stroke-linejoin="round"/><path d="M245.7,298.8 C248.7,298.1 252.0,298.7 254.3,300.8 C256.6,302.9 259.1,307.6 259.6,311.3 C260.2,315.1 259.7,320.9 257.7,323.3 C255.6,325.7 250.7,325.0 247.5,325.7 C244.4,326.3 241.1,328.1 238.8,327.3 C236.4,326.6 234.6,323.2 233.6,321.2 C232.6,319.1 232.3,317.5 232.7,314.8 C233.1,312.1 233.8,307.4 235.9,304.8 C238.1,302.1 242.6,299.4 245.7,298.8 Z" fill="#60ff30" stroke="#60ff30" stroke-width="9.8" stroke-linejoin="round"/><path d="M245.7,298.8 C248.7,298.1 252.0,298.7 254.3,300.8 C256.6,302.9 259.1,307.6 259.6,311.3 C260.2,315.1 259.7,320.9 257.7,323.3 C255.6,325.7 250.7,325.0 247.5,325.7 C244.4,326.3 241.1,328.1 238.8,327.3 C236.4,326.6 234.6,323.2 233.6,321.2 C232.6,319.1 232.3,317.5 232.7,314.8 C233.1,312.1 233.8,307.4 235.9,304.8 C238.1,302.1 242.6,299.4 245.7,298.8 Z" fill="#00ff90" stroke="#00ff90" stroke-width="7.6" stroke-linejoin="round"/><path d="M245.7,298.8 C248.7,298.1 252.0,298.7 254.3,300.8 C256.6,302.9 259.1,307.6 259.6,311.3 C260.2,315.1 259.7,320.9 257.7,323.3 C255.6,325.7 250.7,325.0 247.5,325.7 C244.4,326.3 241.1,328.1 238.8,327.3 C236.4,326.6 234.6,323.2 233.6,321.2 C232.6,319.1 232.3,317.5 232.7,314.8 C233.1,312.1 233.8,307.4 235.9,304.8 C238.1,302.1 242.6,299.4 245.7,298.8 Z" fill="#00f0ff" stroke="#00f0ff" stroke-width="5.6" stroke-linejoin="round"/><path d="M245.7,298.8 C248.7,298.1 252.0,298.7 254.3,300.8 C256.6,302.9 259.1,307.6 259.6,311.3 C260.2,315.1 259.7,320.9 257.7,323.3 C255.6,325.7 250.7,325.0 247.5,325.7 C244.4,326.3 241.1,328.1 238.8,327.3 C236.4,326.6 234.6,323.2 233.6,321.2 C232.6,319.1 232.3,317.5 232.7,314.8 C233.1,312.1 233.8,307.4 235.9,304.8 C238.1,302.1 242.6,299.4 245.7,298.8 Z" fill="#00a0ff" stroke="#00a0ff" stroke-width="3.4" stroke-linejoin="round"/><path d="M245.7,298.8 C248.7,298.1 252.0,298.7 254.3,300.8 C256.6,302.9 259.1,307.6 259.6,311.3 C260.2,315.1 259.7,320.9 257.7,323.3 C255.6,325.7 250.7,325.0 247.5,325.7 C244.4,326.3 241.1,328.1 238.8,327.3 C236.4,326.6 234.6,323.2 233.6,321.2 C232.6,319.1 232.3,317.5 232.7,314.8 C233.1,312.1 233.8,307.4 235.9,304.8 C238.1,302.1 242.6,299.4 245.7,298.8 Z" fill="#0050ff" stroke="#0050ff" stroke-width="1.6" stroke-linejoin="round"/><path d="M245.7,298.8 C248.7,298.1 252.0,298.7 254.3,300.8 C256.6,302.9 259.1,307.6 259.6,311.3 C260.2,315.1 259.7,320.9 257.7,323.3 C255.6,325.7 250.7,325.0 247.5,325.7 C244.4,326.3 241.1,328.1 238.8,327.3 C236.4,326.6 234.6,323.2 233.6,321.2 C232.6,319.1 232.3,317.5 232.7,314.8 C233.1,312.1 233.8,307.4 235.9,304.8 C238.1,302.1 242.6,299.4 245.7,298.8 Z" fill="url(#radF)"/><path d="M232.3,339.5 C235.6,339.9 241.8,343.7 242.3,346.5 C242.9,349.3 238.0,353.5 235.5,356.1 C233.0,358.7 230.2,362.1 227.4,362.3 C224.6,362.5 220.4,359.3 218.8,357.5 C217.2,355.8 217.1,354.1 217.7,351.8 C218.3,349.5 219.8,345.8 222.2,343.7 C224.6,341.7 228.9,339.0 232.3,339.5 Z" fill="#c0ff00" stroke="#c0ff00" stroke-width="11.4" stroke-linejoin="round"/><path d="M232.3,339.5 C235.6,339.9 241.8,343.7 242.3,346.5 C242.9,349.3 238.0,353.5 235.5,356.1 C233.0,358.7 230.2,362.1 227.4,362.3 C224.6,362.5 220.4,359.3 218.8,357.5 C217.2,355.8 217.1,354.1 217.7,351.8 C218.3,349.5 219.8,345.8 222.2,343.7 C224.6,341.7 228.9,339.0 232.3,339.5 Z" fill="#60ff30" stroke="#60ff30" stroke-width="9.8" stroke-linejoin="round"/><path d="M232.3,339.5 C235.6,339.9 241.8,343.7 242.3,346.5 C242.9,349.3 238.0,353.5 235.5,356.1 C233.0,358.7 230.2,362.1 227.4,362.3 C224.6,362.5 220.4,359.3 218.8,357.5 C217.2,355.8 217.1,354.1 217.7,351.8 C218.3,349.5 219.8,345.8 222.2,343.7 C224.6,341.7 228.9,339.0 232.3,339.5 Z" fill="#00ff90" stroke="#00ff90" stroke-width="7.6" stroke-linejoin="round"/><path d="M232.3,339.5 C235.6,339.9 241.8,343.7 242.3,346.5 C242.9,349.3 238.0,353.5 235.5,356.1 C233.0,358.7 230.2,362.1 227.4,362.3 C224.6,362.5 220.4,359.3 218.8,357.5 C217.2,355.8 217.1,354.1 217.7,351.8 C218.3,349.5 219.8,345.8 222.2,343.7 C224.6,341.7 228.9,339.0 232.3,339.5 Z" fill="#00f0ff" stroke="#00f0ff" stroke-width="5.6" stroke-linejoin="round"/><path d="M232.3,339.5 C235.6,339.9 241.8,343.7 242.3,346.5 C242.9,349.3 238.0,353.5 235.5,356.1 C233.0,358.7 230.2,362.1 227.4,362.3 C224.6,362.5 220.4,359.3 218.8,357.5 C217.2,355.8 217.1,354.1 217.7,351.8 C218.3,349.5 219.8,345.8 222.2,343.7 C224.6,341.7 228.9,339.0 232.3,339.5 Z" fill="#00a0ff" stroke="#00a0ff" stroke-width="3.4" stroke-linejoin="round"/><path d="M232.3,339.5 C235.6,339.9 241.8,343.7 242.3,346.5 C242.9,349.3 238.0,353.5 235.5,356.1 C233.0,358.7 230.2,362.1 227.4,362.3 C224.6,362.5 220.4,359.3 218.8,357.5 C217.2,355.8 217.1,354.1 217.7,351.8 C218.3,349.5 219.8,345.8 222.2,343.7 C224.6,341.7 228.9,339.0 232.3,339.5 Z" fill="#0050ff" stroke="#0050ff" stroke-width="1.6" stroke-linejoin="round"/><path d="M232.3,339.5 C235.6,339.9 241.8,343.7 242.3,346.5 C242.9,349.3 238.0,353.5 235.5,356.1 C233.0,358.7 230.2,362.1 227.4,362.3 C224.6,362.5 220.4,359.3 218.8,357.5 C217.2,355.8 217.1,354.1 217.7,351.8 C218.3,349.5 219.8,345.8 222.2,343.7 C224.6,341.7 228.9,339.0 232.3,339.5 Z" fill="url(#radF)"/><path d="M246.3,356.8 C248.6,357.3 251.0,362.5 251.8,365.1 C252.6,367.8 251.9,370.7 251.2,372.4 C250.4,374.2 249.0,374.8 247.3,375.9 C245.5,376.9 243.3,378.3 240.6,378.7 C237.8,379.1 232.1,379.6 230.9,378.3 C229.6,377.0 231.6,373.7 232.8,371.0 C233.9,368.3 235.6,364.5 237.8,362.1 C240.1,359.8 243.9,356.3 246.3,356.8 Z" fill="#c0ff00" stroke="#c0ff00" stroke-width="11.4" stroke-linejoin="round"/><path d="M246.3,356.8 C248.6,357.3 251.0,362.5 251.8,365.1 C252.6,367.8 251.9,370.7 251.2,372.4 C250.4,374.2 249.0,374.8 247.3,375.9 C245.5,376.9 243.3,378.3 240.6,378.7 C237.8,379.1 232.1,379.6 230.9,378.3 C229.6,377.0 231.6,373.7 232.8,371.0 C233.9,368.3 235.6,364.5 237.8,362.1 C240.1,359.8 243.9,356.3 246.3,356.8 Z" fill="#60ff30" stroke="#60ff30" stroke-width="9.8" stroke-linejoin="round"/><path d="M246.3,356.8 C248.6,357.3 251.0,362.5 251.8,365.1 C252.6,367.8 251.9,370.7 251.2,372.4 C250.4,374.2 249.0,374.8 247.3,375.9 C245.5,376.9 243.3,378.3 240.6,378.7 C237.8,379.1 232.1,379.6 230.9,378.3 C229.6,377.0 231.6,373.7 232.8,371.0 C233.9,368.3 235.6,364.5 237.8,362.1 C240.1,359.8 243.9,356.3 246.3,356.8 Z" fill="#00ff90" stroke="#00ff90" stroke-width="7.6" stroke-linejoin="round"/><path d="M246.3,356.8 C248.6,357.3 251.0,362.5 251.8,365.1 C252.6,367.8 251.9,370.7 251.2,372.4 C250.4,374.2 249.0,374.8 247.3,375.9 C245.5,376.9 243.3,378.3 240.6,378.7 C237.8,379.1 232.1,379.6 230.9,378.3 C229.6,377.0 231.6,373.7 232.8,371.0 C233.9,368.3 235.6,364.5 237.8,362.1 C240.1,359.8 243.9,356.3 246.3,356.8 Z" fill="#00f0ff" stroke="#00f0ff" stroke-width="5.6" stroke-linejoin="round"/><path d="M246.3,356.8 C248.6,357.3 251.0,362.5 251.8,365.1 C252.6,367.8 251.9,370.7 251.2,372.4 C250.4,374.2 249.0,374.8 247.3,375.9 C245.5,376.9 243.3,378.3 240.6,378.7 C237.8,379.1 232.1,379.6 230.9,378.3 C229.6,377.0 231.6,373.7 232.8,371.0 C233.9,368.3 235.6,364.5 237.8,362.1 C240.1,359.8 243.9,356.3 246.3,356.8 Z" fill="#00a0ff" stroke="#00a0ff" stroke-width="3.4" stroke-linejoin="round"/><path d="M246.3,356.8 C248.6,357.3 251.0,362.5 251.8,365.1 C252.6,367.8 251.9,370.7 251.2,372.4 C250.4,374.2 249.0,374.8 247.3,375.9 C245.5,376.9 243.3,378.3 240.6,378.7 C237.8,379.1 232.1,379.6 230.9,378.3 C229.6,377.0 231.6,373.7 232.8,371.0 C233.9,368.3 235.6,364.5 237.8,362.1 C240.1,359.8 243.9,356.3 246.3,356.8 Z" fill="#0050ff" stroke="#0050ff" stroke-width="1.6" stroke-linejoin="round"/><path d="M246.3,356.8 C248.6,357.3 251.0,362.5 251.8,365.1 C252.6,367.8 251.9,370.7 251.2,372.4 C250.4,374.2 249.0,374.8 247.3,375.9 C245.5,376.9 243.3,378.3 240.6,378.7 C237.8,379.1 232.1,379.6 230.9,378.3 C229.6,377.0 231.6,373.7 232.8,371.0 C233.9,368.3 235.6,364.5 237.8,362.1 C240.1,359.8 243.9,356.3 246.3,356.8 Z" fill="url(#radF)"/><path d="M224.6,388.6 C225.9,388.5 229.2,392.5 230.8,394.2 C232.3,396.0 233.6,397.2 233.7,399.2 C233.9,401.2 233.0,404.5 231.6,406.1 C230.2,407.8 226.9,410.1 225.5,409.1 C224.1,408.1 223.8,402.7 223.4,400.3 C222.9,397.9 222.7,396.7 222.9,394.8 C223.1,392.8 223.2,388.6 224.6,388.6 Z" fill="#c0ff00" stroke="#c0ff00" stroke-width="11.4" stroke-linejoin="round"/><path d="M224.6,388.6 C225.9,388.5 229.2,392.5 230.8,394.2 C232.3,396.0 233.6,397.2 233.7,399.2 C233.9,401.2 233.0,404.5 231.6,406.1 C230.2,407.8 226.9,410.1 225.5,409.1 C224.1,408.1 223.8,402.7 223.4,400.3 C222.9,397.9 222.7,396.7 222.9,394.8 C223.1,392.8 223.2,388.6 224.6,388.6 Z" fill="#60ff30" stroke="#60ff30" stroke-width="9.8" stroke-linejoin="round"/><path d="M224.6,388.6 C225.9,388.5 229.2,392.5 230.8,394.2 C232.3,396.0 233.6,397.2 233.7,399.2 C233.9,401.2 233.0,404.5 231.6,406.1 C230.2,407.8 226.9,410.1 225.5,409.1 C224.1,408.1 223.8,402.7 223.4,400.3 C222.9,397.9 222.7,396.7 222.9,394.8 C223.1,392.8 223.2,388.6 224.6,388.6 Z" fill="#00ff90" stroke="#00ff90" stroke-width="7.6" stroke-linejoin="round"/><path d="M224.6,388.6 C225.9,388.5 229.2,392.5 230.8,394.2 C232.3,396.0 233.6,397.2 233.7,399.2 C233.9,401.2 233.0,404.5 231.6,406.1 C230.2,407.8 226.9,410.1 225.5,409.1 C224.1,408.1 223.8,402.7 223.4,400.3 C222.9,397.9 222.7,396.7 222.9,394.8 C223.1,392.8 223.2,388.6 224.6,388.6 Z" fill="#00f0ff" stroke="#00f0ff" stroke-width="5.6" stroke-linejoin="round"/><path d="M224.6,388.6 C225.9,388.5 229.2,392.5 230.8,394.2 C232.3,396.0 233.6,397.2 233.7,399.2 C233.9,401.2 233.0,404.5 231.6,406.1 C230.2,407.8 226.9,410.1 225.5,409.1 C224.1,408.1 223.8,402.7 223.4,400.3 C222.9,397.9 222.7,396.7 222.9,394.8 C223.1,392.8 223.2,388.6 224.6,388.6 Z" fill="#00a0ff" stroke="#00a0ff" stroke-width="3.4" stroke-linejoin="round"/><path d="M224.6,388.6 C225.9,388.5 229.2,392.5 230.8,394.2 C232.3,396.0 233.6,397.2 233.7,399.2 C233.9,401.2 233.0,404.5 231.6,406.1 C230.2,407.8 226.9,410.1 225.5,409.1 C224.1,408.1 223.8,402.7 223.4,400.3 C222.9,397.9 222.7,396.7 222.9,394.8 C223.1,392.8 223.2,388.6 224.6,388.6 Z" fill="#0050ff" stroke="#0050ff" stroke-width="1.6" stroke-linejoin="round"/><path d="M224.6,388.6 C225.9,388.5 229.2,392.5 230.8,394.2 C232.3,396.0 233.6,397.2 233.7,399.2 C233.9,401.2 233.0,404.5 231.6,406.1 C230.2,407.8 226.9,410.1 225.5,409.1 C224.1,408.1 223.8,402.7 223.4,400.3 C222.9,397.9 222.7,396.7 222.9,394.8 C223.1,392.8 223.2,388.6 224.6,388.6 Z" fill="url(#radF)"/>
</g>
<g clip-path="url(#clipG)">
<path d="M446.9,290.5 L452.6,288.6 L458.6,287.0 L460.7,292.4 L462.4,306.8 L463.1,320.4 L462.9,328.4 L462.1,338.4 L461.4,344.4 L463.6,355.4 L467.6,368.9 L464.1,374.9 L460.5,380.4 L456.1,390.4 L450.9,401.8 L445.1,410.4 L440.2,417.8 L435.1,424.4 L429.5,430.6 L424.1,435.4 L418.9,440.2 L419.4,430.4 L420.5,412.4 L421.5,395.0 L420.6,380.4 L419.5,371.6 L418.1,355.4 L416.7,343.4 L422.1,333.4 L427.1,326.0 L437.1,307.4 Z" fill="#0a1cf2"/>
<path d="M455.3,294.2 C458.4,293.3 459.4,293.8 460.7,296.9 C462.0,300.0 463.4,307.2 463.4,313.0 C463.4,318.8 463.7,328.1 460.7,331.4 C457.7,334.7 449.7,333.5 445.6,333.0 C441.5,332.5 437.6,330.8 435.9,328.2 C434.2,325.6 434.3,321.7 435.4,317.4 C436.5,313.1 439.1,306.2 442.4,302.3 C445.7,298.4 452.2,295.1 455.3,294.2 Z" fill="#0070ff" stroke="#0070ff" stroke-width="10.0" stroke-linejoin="round"/><path d="M432.2,332.2 C437.1,332.7 449.3,339.3 453.0,341.9 C456.7,344.5 456.6,343.6 454.4,347.8 C452.2,352.0 443.3,362.7 439.6,367.0 C435.9,371.3 434.9,373.2 432.2,373.7 C429.5,374.2 425.3,372.8 423.3,370.0 C421.3,367.2 420.4,361.9 420.4,356.7 C420.4,351.5 421.3,343.0 423.3,338.9 C425.3,334.8 427.2,331.7 432.2,332.2 Z" fill="#0070ff" stroke="#0070ff" stroke-width="10.0" stroke-linejoin="round"/><path d="M457.4,354.4 C461.8,355.4 465.8,364.9 466.3,370.0 C466.8,375.1 462.9,381.6 460.4,384.8 C457.9,388.0 455.8,389.6 451.5,389.3 C447.2,389.1 437.5,385.0 434.4,383.3 C431.3,381.6 432.1,382.1 433.0,378.9 C433.9,375.7 435.5,368.2 439.6,364.1 C443.7,360.0 452.9,353.4 457.4,354.4 Z" fill="#0070ff" stroke="#0070ff" stroke-width="10.0" stroke-linejoin="round"/><path d="M423.3,384.8 C424.4,382.7 424.1,386.0 427.8,387.0 C431.5,388.0 441.7,388.3 445.6,390.7 C449.6,393.1 451.8,396.7 451.5,401.1 C451.2,405.6 447.8,413.2 444.1,417.4 C440.4,421.6 432.9,425.6 429.3,426.3 C425.7,427.1 424.0,426.3 422.6,421.9 C421.2,417.4 421.0,405.8 421.1,399.6 C421.2,393.4 422.2,386.9 423.3,384.8 Z" fill="#0070ff" stroke="#0070ff" stroke-width="10.0" stroke-linejoin="round"/><path d="M455.3,294.2 C458.4,293.3 459.4,293.8 460.7,296.9 C462.0,300.0 463.4,307.2 463.4,313.0 C463.4,318.8 463.7,328.1 460.7,331.4 C457.7,334.7 449.7,333.5 445.6,333.0 C441.5,332.5 437.6,330.8 435.9,328.2 C434.2,325.6 434.3,321.7 435.4,317.4 C436.5,313.1 439.1,306.2 442.4,302.3 C445.7,298.4 452.2,295.1 455.3,294.2 Z" fill="#00e8ff" stroke="#00e8ff" stroke-width="8.0" stroke-linejoin="round"/><path d="M432.2,332.2 C437.1,332.7 449.3,339.3 453.0,341.9 C456.7,344.5 456.6,343.6 454.4,347.8 C452.2,352.0 443.3,362.7 439.6,367.0 C435.9,371.3 434.9,373.2 432.2,373.7 C429.5,374.2 425.3,372.8 423.3,370.0 C421.3,367.2 420.4,361.9 420.4,356.7 C420.4,351.5 421.3,343.0 423.3,338.9 C425.3,334.8 427.2,331.7 432.2,332.2 Z" fill="#00e8ff" stroke="#00e8ff" stroke-width="8.0" stroke-linejoin="round"/><path d="M457.4,354.4 C461.8,355.4 465.8,364.9 466.3,370.0 C466.8,375.1 462.9,381.6 460.4,384.8 C457.9,388.0 455.8,389.6 451.5,389.3 C447.2,389.1 437.5,385.0 434.4,383.3 C431.3,381.6 432.1,382.1 433.0,378.9 C433.9,375.7 435.5,368.2 439.6,364.1 C443.7,360.0 452.9,353.4 457.4,354.4 Z" fill="#00e8ff" stroke="#00e8ff" stroke-width="8.0" stroke-linejoin="round"/><path d="M423.3,384.8 C424.4,382.7 424.1,386.0 427.8,387.0 C431.5,388.0 441.7,388.3 445.6,390.7 C449.6,393.1 451.8,396.7 451.5,401.1 C451.2,405.6 447.8,413.2 444.1,417.4 C440.4,421.6 432.9,425.6 429.3,426.3 C425.7,427.1 424.0,426.3 422.6,421.9 C421.2,417.4 421.0,405.8 421.1,399.6 C421.2,393.4 422.2,386.9 423.3,384.8 Z" fill="#00e8ff" stroke="#00e8ff" stroke-width="8.0" stroke-linejoin="round"/><path d="M455.3,294.2 C458.4,293.3 459.4,293.8 460.7,296.9 C462.0,300.0 463.4,307.2 463.4,313.0 C463.4,318.8 463.7,328.1 460.7,331.4 C457.7,334.7 449.7,333.5 445.6,333.0 C441.5,332.5 437.6,330.8 435.9,328.2 C434.2,325.6 434.3,321.7 435.4,317.4 C436.5,313.1 439.1,306.2 442.4,302.3 C445.7,298.4 452.2,295.1 455.3,294.2 Z" fill="#70ff50" stroke="#70ff50" stroke-width="5.6" stroke-linejoin="round"/><path d="M432.2,332.2 C437.1,332.7 449.3,339.3 453.0,341.9 C456.7,344.5 456.6,343.6 454.4,347.8 C452.2,352.0 443.3,362.7 439.6,367.0 C435.9,371.3 434.9,373.2 432.2,373.7 C429.5,374.2 425.3,372.8 423.3,370.0 C421.3,367.2 420.4,361.9 420.4,356.7 C420.4,351.5 421.3,343.0 423.3,338.9 C425.3,334.8 427.2,331.7 432.2,332.2 Z" fill="#70ff50" stroke="#70ff50" stroke-width="5.6" stroke-linejoin="round"/><path d="M457.4,354.4 C461.8,355.4 465.8,364.9 466.3,370.0 C466.8,375.1 462.9,381.6 460.4,384.8 C457.9,388.0 455.8,389.6 451.5,389.3 C447.2,389.1 437.5,385.0 434.4,383.3 C431.3,381.6 432.1,382.1 433.0,378.9 C433.9,375.7 435.5,368.2 439.6,364.1 C443.7,360.0 452.9,353.4 457.4,354.4 Z" fill="#70ff50" stroke="#70ff50" stroke-width="5.6" stroke-linejoin="round"/><path d="M423.3,384.8 C424.4,382.7 424.1,386.0 427.8,387.0 C431.5,388.0 441.7,388.3 445.6,390.7 C449.6,393.1 451.8,396.7 451.5,401.1 C451.2,405.6 447.8,413.2 444.1,417.4 C440.4,421.6 432.9,425.6 429.3,426.3 C425.7,427.1 424.0,426.3 422.6,421.9 C421.2,417.4 421.0,405.8 421.1,399.6 C421.2,393.4 422.2,386.9 423.3,384.8 Z" fill="#70ff50" stroke="#70ff50" stroke-width="5.6" stroke-linejoin="round"/><path d="M455.3,294.2 C458.4,293.3 459.4,293.8 460.7,296.9 C462.0,300.0 463.4,307.2 463.4,313.0 C463.4,318.8 463.7,328.1 460.7,331.4 C457.7,334.7 449.7,333.5 445.6,333.0 C441.5,332.5 437.6,330.8 435.9,328.2 C434.2,325.6 434.3,321.7 435.4,317.4 C436.5,313.1 439.1,306.2 442.4,302.3 C445.7,298.4 452.2,295.1 455.3,294.2 Z" fill="#ffff00" stroke="#ffff00" stroke-width="3.0" stroke-linejoin="round"/><path d="M432.2,332.2 C437.1,332.7 449.3,339.3 453.0,341.9 C456.7,344.5 456.6,343.6 454.4,347.8 C452.2,352.0 443.3,362.7 439.6,367.0 C435.9,371.3 434.9,373.2 432.2,373.7 C429.5,374.2 425.3,372.8 423.3,370.0 C421.3,367.2 420.4,361.9 420.4,356.7 C420.4,351.5 421.3,343.0 423.3,338.9 C425.3,334.8 427.2,331.7 432.2,332.2 Z" fill="#ffff00" stroke="#ffff00" stroke-width="3.0" stroke-linejoin="round"/><path d="M457.4,354.4 C461.8,355.4 465.8,364.9 466.3,370.0 C466.8,375.1 462.9,381.6 460.4,384.8 C457.9,388.0 455.8,389.6 451.5,389.3 C447.2,389.1 437.5,385.0 434.4,383.3 C431.3,381.6 432.1,382.1 433.0,378.9 C433.9,375.7 435.5,368.2 439.6,364.1 C443.7,360.0 452.9,353.4 457.4,354.4 Z" fill="#ffff00" stroke="#ffff00" stroke-width="3.0" stroke-linejoin="round"/><path d="M423.3,384.8 C424.4,382.7 424.1,386.0 427.8,387.0 C431.5,388.0 441.7,388.3 445.6,390.7 C449.6,393.1 451.8,396.7 451.5,401.1 C451.2,405.6 447.8,413.2 444.1,417.4 C440.4,421.6 432.9,425.6 429.3,426.3 C425.7,427.1 424.0,426.3 422.6,421.9 C421.2,417.4 421.0,405.8 421.1,399.6 C421.2,393.4 422.2,386.9 423.3,384.8 Z" fill="#ffff00" stroke="#ffff00" stroke-width="3.0" stroke-linejoin="round"/><path d="M455.3,294.2 C458.4,293.3 459.4,293.8 460.7,296.9 C462.0,300.0 463.4,307.2 463.4,313.0 C463.4,318.8 463.7,328.1 460.7,331.4 C457.7,334.7 449.7,333.5 445.6,333.0 C441.5,332.5 437.6,330.8 435.9,328.2 C434.2,325.6 434.3,321.7 435.4,317.4 C436.5,313.1 439.1,306.2 442.4,302.3 C445.7,298.4 452.2,295.1 455.3,294.2 Z" fill="#ff8000" stroke="#ff8000" stroke-width="1.2" stroke-linejoin="round"/><path d="M432.2,332.2 C437.1,332.7 449.3,339.3 453.0,341.9 C456.7,344.5 456.6,343.6 454.4,347.8 C452.2,352.0 443.3,362.7 439.6,367.0 C435.9,371.3 434.9,373.2 432.2,373.7 C429.5,374.2 425.3,372.8 423.3,370.0 C421.3,367.2 420.4,361.9 420.4,356.7 C420.4,351.5 421.3,343.0 423.3,338.9 C425.3,334.8 427.2,331.7 432.2,332.2 Z" fill="#ff8000" stroke="#ff8000" stroke-width="1.2" stroke-linejoin="round"/><path d="M457.4,354.4 C461.8,355.4 465.8,364.9 466.3,370.0 C466.8,375.1 462.9,381.6 460.4,384.8 C457.9,388.0 455.8,389.6 451.5,389.3 C447.2,389.1 437.5,385.0 434.4,383.3 C431.3,381.6 432.1,382.1 433.0,378.9 C433.9,375.7 435.5,368.2 439.6,364.1 C443.7,360.0 452.9,353.4 457.4,354.4 Z" fill="#ff8000" stroke="#ff8000" stroke-width="1.2" stroke-linejoin="round"/><path d="M423.3,384.8 C424.4,382.7 424.1,386.0 427.8,387.0 C431.5,388.0 441.7,388.3 445.6,390.7 C449.6,393.1 451.8,396.7 451.5,401.1 C451.2,405.6 447.8,413.2 444.1,417.4 C440.4,421.6 432.9,425.6 429.3,426.3 C425.7,427.1 424.0,426.3 422.6,421.9 C421.2,417.4 421.0,405.8 421.1,399.6 C421.2,393.4 422.2,386.9 423.3,384.8 Z" fill="#ff8000" stroke="#ff8000" stroke-width="1.2" stroke-linejoin="round"/><path d="M455.3,294.2 C458.4,293.3 459.4,293.8 460.7,296.9 C462.0,300.0 463.4,307.2 463.4,313.0 C463.4,318.8 463.7,328.1 460.7,331.4 C457.7,334.7 449.7,333.5 445.6,333.0 C441.5,332.5 437.6,330.8 435.9,328.2 C434.2,325.6 434.3,321.7 435.4,317.4 C436.5,313.1 439.1,306.2 442.4,302.3 C445.7,298.4 452.2,295.1 455.3,294.2 Z" fill="#fa1a06"/><path d="M432.2,332.2 C437.1,332.7 449.3,339.3 453.0,341.9 C456.7,344.5 456.6,343.6 454.4,347.8 C452.2,352.0 443.3,362.7 439.6,367.0 C435.9,371.3 434.9,373.2 432.2,373.7 C429.5,374.2 425.3,372.8 423.3,370.0 C421.3,367.2 420.4,361.9 420.4,356.7 C420.4,351.5 421.3,343.0 423.3,338.9 C425.3,334.8 427.2,331.7 432.2,332.2 Z" fill="#fa1a06"/><path d="M457.4,354.4 C461.8,355.4 465.8,364.9 466.3,370.0 C466.8,375.1 462.9,381.6 460.4,384.8 C457.9,388.0 455.8,389.6 451.5,389.3 C447.2,389.1 437.5,385.0 434.4,383.3 C431.3,381.6 432.1,382.1 433.0,378.9 C433.9,375.7 435.5,368.2 439.6,364.1 C443.7,360.0 452.9,353.4 457.4,354.4 Z" fill="#fa1a06"/><path d="M423.3,384.8 C424.4,382.7 424.1,386.0 427.8,387.0 C431.5,388.0 441.7,388.3 445.6,390.7 C449.6,393.1 451.8,396.7 451.5,401.1 C451.2,405.6 447.8,413.2 444.1,417.4 C440.4,421.6 432.9,425.6 429.3,426.3 C425.7,427.1 424.0,426.3 422.6,421.9 C421.2,417.4 421.0,405.8 421.1,399.6 C421.2,393.4 422.2,386.9 423.3,384.8 Z" fill="#fa1a06"/>
<path d="M457.4,354.4 C461.8,355.4 465.8,364.9 466.3,370.0 C466.8,375.1 462.9,381.6 460.4,384.8 C457.9,388.0 455.8,389.6 451.5,389.3 C447.2,389.1 437.5,385.0 434.4,383.3 C431.3,381.6 432.1,382.1 433.0,378.9 C433.9,375.7 435.5,368.2 439.6,364.1 C443.7,360.0 452.9,353.4 457.4,354.4 Z" fill="none" stroke="#ffd000" stroke-width="1.0"/>
<path d="M423.3,384.8 C424.4,382.7 424.1,386.0 427.8,387.0 C431.5,388.0 441.7,388.3 445.6,390.7 C449.6,393.1 451.8,396.7 451.5,401.1 C451.2,405.6 447.8,413.2 444.1,417.4 C440.4,421.6 432.9,425.6 429.3,426.3 C425.7,427.1 424.0,426.3 422.6,421.9 C421.2,417.4 421.0,405.8 421.1,399.6 C421.2,393.4 422.2,386.9 423.3,384.8 Z" fill="none" stroke="#ffd000" stroke-width="1.0"/>
</g>
<path d="M565.7,290.4 L571.4,288.5 L577.4,286.9 L579.5,292.3 L581.2,306.7 L581.9,320.3 L581.7,328.3 L580.9,338.3 L580.2,344.3 L582.4,355.3 L586.4,368.8 L582.9,374.8 L579.3,380.3 L574.9,390.3 L569.7,401.7 L563.9,410.3 L559.0,417.7 L553.9,424.3 L548.3,430.5 L542.9,435.3 L537.7,440.1 L538.2,430.3 L539.3,412.3 L540.3,394.9 L539.4,380.3 L538.3,371.5 L536.9,355.3 L535.5,343.3 L540.9,333.3 L545.9,325.9 L555.9,307.3 Z" fill="#fa1a06"/>
<ellipse cx="571.4" cy="316.3" rx="3.7" ry="3.7" fill="#d8c020" opacity="1.00" /><ellipse cx="571.4" cy="316.3" rx="2.8" ry="2.8" fill="#0a20a0" opacity="1.00" /><ellipse cx="571.4" cy="316.3" rx="1.8" ry="1.8" fill="#0010c0" opacity="1.00" />
<ellipse cx="557.3" cy="352.5" rx="3.7" ry="3.7" fill="#d8c020" opacity="1.00" /><ellipse cx="557.3" cy="352.5" rx="2.8" ry="2.8" fill="#0a20a0" opacity="1.00" /><ellipse cx="557.3" cy="352.5" rx="1.8" ry="1.8" fill="#0010c0" opacity="1.00" />
<ellipse cx="569.2" cy="374.5" rx="3.7" ry="3.7" fill="#d8c020" opacity="1.00" /><ellipse cx="569.2" cy="374.5" rx="2.8" ry="2.8" fill="#0a20a0" opacity="1.00" /><ellipse cx="569.2" cy="374.5" rx="1.8" ry="1.8" fill="#0010c0" opacity="1.00" />
<ellipse cx="554.1" cy="404.8" rx="3.7" ry="3.7" fill="#d8c020" opacity="1.00" /><ellipse cx="554.1" cy="404.8" rx="2.8" ry="2.8" fill="#0a20a0" opacity="1.00" /><ellipse cx="554.1" cy="404.8" rx="1.8" ry="1.8" fill="#0010c0" opacity="1.00" />
<line x1="122.5" y1="76.8" x2="124.5" y2="74.8" stroke="#111" stroke-width="1.0"/><line x1="119.9" y1="97.7" x2="121.9" y2="95.7" stroke="#111" stroke-width="1.0"/><line x1="110.0" y1="113.5" x2="112.0" y2="111.5" stroke="#111" stroke-width="1.0"/><line x1="105.2" y1="134.0" x2="107.2" y2="132.0" stroke="#111" stroke-width="1.0"/><line x1="122.5" y1="131.8" x2="124.5" y2="129.8" stroke="#111" stroke-width="1.0"/><line x1="88.4" y1="139.4" x2="90.4" y2="137.4" stroke="#111" stroke-width="1.0"/><line x1="116.5" y1="155.1" x2="118.5" y2="153.1" stroke="#111" stroke-width="1.0"/><line x1="99.4" y1="164.2" x2="101.4" y2="162.2" stroke="#111" stroke-width="1.0"/><line x1="102.6" y1="185.4" x2="104.6" y2="183.4" stroke="#111" stroke-width="1.0"/>
<text x="127.3" y="82.2" class="wl" fill="#1a1a1a">W23-22</text><text x="124.6" y="102.2" class="wl" fill="#1a1a1a">109</text><text x="113.9" y="118.3" class="wl" fill="#1a1a1a">W23-6</text><text x="109.9" y="137.3" class="wl" fill="#1a1a1a">W23-</text><text x="128.3" y="137.3" class="wl" fill="#1a1a1a">W23-25</text><text x="92.0" y="144.2" class="wl" fill="#1a1a1a">W69-C10</text><text x="121.5" y="160.0" class="wl" fill="#1a1a1a">W23-17</text><text x="103.7" y="169.9" class="wl" fill="#1a1a1a">W64</text><text x="106.5" y="189.9" class="wl" fill="#1a1a1a">W23-4</text>
<line x1="252.9" y1="76.8" x2="254.9" y2="74.8" stroke="#111" stroke-width="1.0"/><line x1="250.3" y1="97.7" x2="252.3" y2="95.7" stroke="#111" stroke-width="1.0"/><line x1="240.4" y1="113.5" x2="242.4" y2="111.5" stroke="#111" stroke-width="1.0"/><line x1="235.6" y1="134.0" x2="237.6" y2="132.0" stroke="#111" stroke-width="1.0"/><line x1="252.9" y1="131.8" x2="254.9" y2="129.8" stroke="#111" stroke-width="1.0"/><line x1="218.8" y1="139.4" x2="220.8" y2="137.4" stroke="#111" stroke-width="1.0"/><line x1="246.9" y1="155.1" x2="248.9" y2="153.1" stroke="#111" stroke-width="1.0"/><line x1="229.8" y1="164.2" x2="231.8" y2="162.2" stroke="#111" stroke-width="1.0"/><line x1="233.0" y1="185.4" x2="235.0" y2="183.4" stroke="#111" stroke-width="1.0"/>
<text x="257.7" y="82.2" class="wl" fill="#1a1a1a">W23-22</text><text x="255.0" y="102.2" class="wl" fill="#1a1a1a">109</text><text x="244.3" y="118.3" class="wl" fill="#1a1a1a">W23-6</text><text x="240.3" y="137.3" class="wl" fill="#1a1a1a">W23-</text><text x="258.7" y="137.3" class="wl" fill="#1a1a1a">W23-25</text><text x="222.4" y="144.2" class="wl" fill="#1a1a1a">W69-C10</text><text x="251.9" y="160.0" class="wl" fill="#1a1a1a">W23-17</text><text x="234.1" y="169.9" class="wl" fill="#1a1a1a">W64</text><text x="236.9" y="189.9" class="wl" fill="#1a1a1a">W23-4</text>
<line x1="454.3" y1="76.5" x2="456.3" y2="74.5" stroke="#111" stroke-width="1.0"/><line x1="451.7" y1="97.4" x2="453.7" y2="95.4" stroke="#111" stroke-width="1.0"/><line x1="441.8" y1="113.2" x2="443.8" y2="111.2" stroke="#111" stroke-width="1.0"/><line x1="437.0" y1="133.7" x2="439.0" y2="131.7" stroke="#111" stroke-width="1.0"/><line x1="454.3" y1="131.5" x2="456.3" y2="129.5" stroke="#111" stroke-width="1.0"/><line x1="420.2" y1="139.1" x2="422.2" y2="137.1" stroke="#111" stroke-width="1.0"/><line x1="448.3" y1="154.8" x2="450.3" y2="152.8" stroke="#111" stroke-width="1.0"/><line x1="431.2" y1="163.9" x2="433.2" y2="161.9" stroke="#111" stroke-width="1.0"/><line x1="434.4" y1="185.1" x2="436.4" y2="183.1" stroke="#111" stroke-width="1.0"/>
<text x="459.1" y="81.9" class="wl" fill="#1a1a1a">W23-22</text><text x="456.4" y="101.9" class="wl" fill="#1a1a1a">109</text><text x="445.7" y="118.0" class="wl" fill="#1a1a1a">W23-6</text><text x="441.7" y="137.0" class="wl" fill="#1a1a1a">W23-</text><text x="460.1" y="137.0" class="wl" fill="#1a1a1a">W23-25</text><text x="423.8" y="143.9" class="wl" fill="#1a1a1a">W69-C10</text><text x="453.3" y="159.7" class="wl" fill="#1a1a1a">W23-17</text><text x="435.5" y="169.6" class="wl" fill="#1a1a1a">W64</text><text x="438.3" y="189.6" class="wl" fill="#1a1a1a">W23-4</text>
<g opacity="0.35"><line x1="573.0" y1="77.6" x2="575.0" y2="75.6" stroke="#111" stroke-width="1.0"/><line x1="570.4" y1="98.5" x2="572.4" y2="96.5" stroke="#111" stroke-width="1.0"/><line x1="560.5" y1="114.3" x2="562.5" y2="112.3" stroke="#111" stroke-width="1.0"/><line x1="555.7" y1="134.8" x2="557.7" y2="132.8" stroke="#111" stroke-width="1.0"/><line x1="573.0" y1="132.6" x2="575.0" y2="130.6" stroke="#111" stroke-width="1.0"/><line x1="538.9" y1="140.2" x2="540.9" y2="138.2" stroke="#111" stroke-width="1.0"/><line x1="567.0" y1="155.9" x2="569.0" y2="153.9" stroke="#111" stroke-width="1.0"/><line x1="549.9" y1="165.0" x2="551.9" y2="163.0" stroke="#111" stroke-width="1.0"/><line x1="553.1" y1="186.2" x2="555.1" y2="184.2" stroke="#111" stroke-width="1.0"/></g>
<text x="577.8" y="83.0" class="wl" fill="#1a1a1a">W23-22</text><text x="575.1" y="103.0" class="wl" fill="#1a1a1a">109</text><text x="564.4" y="119.1" class="wl" fill="#1a1a1a">W23-6</text><text x="560.4" y="138.1" class="wl" fill="#1a1a1a">W23-</text><text x="578.8" y="138.1" class="wl" fill="#1a1a1a">W23-25</text><text x="542.5" y="145.0" class="wl" fill="#1a1a1a">W69-C10</text><text x="572.0" y="160.8" class="wl" fill="#1a1a1a">W23-17</text><text x="554.2" y="170.7" class="wl" fill="#1a1a1a">W64</text><text x="557.0" y="190.7" class="wl" fill="#1a1a1a">W23-4</text>
<line x1="120.8" y1="297.2" x2="122.8" y2="295.2" stroke="#111" stroke-width="1.0"/><line x1="118.2" y1="318.1" x2="120.2" y2="316.1" stroke="#111" stroke-width="1.0"/><line x1="108.3" y1="333.9" x2="110.3" y2="331.9" stroke="#111" stroke-width="1.0"/><line x1="103.5" y1="354.4" x2="105.5" y2="352.4" stroke="#111" stroke-width="1.0"/><line x1="120.8" y1="352.2" x2="122.8" y2="350.2" stroke="#111" stroke-width="1.0"/><line x1="86.7" y1="359.8" x2="88.7" y2="357.8" stroke="#111" stroke-width="1.0"/><line x1="114.8" y1="375.5" x2="116.8" y2="373.5" stroke="#111" stroke-width="1.0"/><line x1="97.7" y1="384.6" x2="99.7" y2="382.6" stroke="#111" stroke-width="1.0"/><line x1="100.9" y1="405.8" x2="102.9" y2="403.8" stroke="#111" stroke-width="1.0"/>
<text x="125.6" y="302.6" class="wl" fill="#1a1a1a">W23-22</text><text x="122.9" y="322.6" class="wl" fill="#1a1a1a">109</text><text x="112.2" y="338.7" class="wl" fill="#1a1a1a">W23-6</text><text x="108.2" y="357.7" class="wl" fill="#1a1a1a">W23-</text><text x="126.6" y="357.7" class="wl" fill="#1a1a1a">W23-25</text><text x="90.3" y="364.6" class="wl" fill="#1a1a1a">W69-C10</text><text x="119.8" y="380.4" class="wl" fill="#1a1a1a">W23-17</text><text x="102.0" y="390.3" class="wl" fill="#1a1a1a">W64</text><text x="104.8" y="410.3" class="wl" fill="#1a1a1a">W23-4</text>
<line x1="247.2" y1="297.0" x2="249.2" y2="295.0" stroke="#111" stroke-width="1.0"/><line x1="244.6" y1="317.9" x2="246.6" y2="315.9" stroke="#111" stroke-width="1.0"/><line x1="234.7" y1="333.7" x2="236.7" y2="331.7" stroke="#111" stroke-width="1.0"/><line x1="229.9" y1="354.2" x2="231.9" y2="352.2" stroke="#111" stroke-width="1.0"/><line x1="247.2" y1="352.0" x2="249.2" y2="350.0" stroke="#111" stroke-width="1.0"/><line x1="213.1" y1="359.6" x2="215.1" y2="357.6" stroke="#111" stroke-width="1.0"/><line x1="241.2" y1="375.3" x2="243.2" y2="373.3" stroke="#111" stroke-width="1.0"/><line x1="224.1" y1="384.4" x2="226.1" y2="382.4" stroke="#111" stroke-width="1.0"/><line x1="227.3" y1="405.6" x2="229.3" y2="403.6" stroke="#111" stroke-width="1.0"/>
<text x="252.0" y="302.4" class="wl" fill="#1a1a1a">W23-22</text><text x="249.3" y="322.4" class="wl" fill="#1a1a1a">109</text><text x="238.6" y="338.5" class="wl" fill="#1a1a1a">W23-6</text><text x="234.6" y="357.5" class="wl" fill="#1a1a1a">W23-</text><text x="253.0" y="357.5" class="wl" fill="#1a1a1a">W23-25</text><text x="216.7" y="364.4" class="wl" fill="#1a1a1a">W69-C10</text><text x="246.2" y="380.2" class="wl" fill="#1a1a1a">W23-17</text><text x="228.4" y="390.1" class="wl" fill="#1a1a1a">W64</text><text x="231.2" y="410.1" class="wl" fill="#1a1a1a">W23-4</text>
<line x1="454.6" y1="297.2" x2="456.6" y2="295.2" stroke="#111" stroke-width="1.0"/><line x1="452.0" y1="318.1" x2="454.0" y2="316.1" stroke="#111" stroke-width="1.0"/><line x1="442.1" y1="333.9" x2="444.1" y2="331.9" stroke="#111" stroke-width="1.0"/><line x1="437.3" y1="354.4" x2="439.3" y2="352.4" stroke="#111" stroke-width="1.0"/><line x1="454.6" y1="352.2" x2="456.6" y2="350.2" stroke="#111" stroke-width="1.0"/><line x1="420.5" y1="359.8" x2="422.5" y2="357.8" stroke="#111" stroke-width="1.0"/><line x1="448.6" y1="375.5" x2="450.6" y2="373.5" stroke="#111" stroke-width="1.0"/><line x1="431.5" y1="384.6" x2="433.5" y2="382.6" stroke="#111" stroke-width="1.0"/><line x1="434.7" y1="405.8" x2="436.7" y2="403.8" stroke="#111" stroke-width="1.0"/>
<text x="459.4" y="302.6" class="wl" fill="#1a1a1a">W23-22</text><text x="456.7" y="322.6" class="wl" fill="#1a1a1a">109</text><text x="446.0" y="338.7" class="wl" fill="#1a1a1a">W23-6</text><text x="442.0" y="357.7" class="wl" fill="#1a1a1a">W23-</text><text x="460.4" y="357.7" class="wl" fill="#1a1a1a">W23-25</text><text x="424.1" y="364.6" class="wl" fill="#1a1a1a">W69-C10</text><text x="453.6" y="380.4" class="wl" fill="#1a1a1a">W23-17</text><text x="435.8" y="390.3" class="wl" fill="#1a1a1a">W64</text><text x="438.6" y="410.3" class="wl" fill="#1a1a1a">W23-4</text>
<g opacity="0.35"><line x1="573.4" y1="297.1" x2="575.4" y2="295.1" stroke="#111" stroke-width="1.0"/><line x1="570.8" y1="318.0" x2="572.8" y2="316.0" stroke="#111" stroke-width="1.0"/><line x1="560.9" y1="333.8" x2="562.9" y2="331.8" stroke="#111" stroke-width="1.0"/><line x1="556.1" y1="354.3" x2="558.1" y2="352.3" stroke="#111" stroke-width="1.0"/><line x1="573.4" y1="352.1" x2="575.4" y2="350.1" stroke="#111" stroke-width="1.0"/><line x1="539.3" y1="359.7" x2="541.3" y2="357.7" stroke="#111" stroke-width="1.0"/><line x1="567.4" y1="375.4" x2="569.4" y2="373.4" stroke="#111" stroke-width="1.0"/><line x1="550.3" y1="384.5" x2="552.3" y2="382.5" stroke="#111" stroke-width="1.0"/><line x1="553.5" y1="405.7" x2="555.5" y2="403.7" stroke="#111" stroke-width="1.0"/></g>
<text x="578.2" y="302.5" class="wl" fill="#1a1a1a">W23-22</text><text x="575.5" y="322.5" class="wl" fill="#1a1a1a">109</text><text x="564.8" y="338.6" class="wl" fill="#1a1a1a">W23-6</text><text x="560.8" y="357.6" class="wl" fill="#1a1a1a">W23-</text><text x="579.2" y="357.6" class="wl" fill="#1a1a1a">W23-25</text><text x="542.9" y="364.5" class="wl" fill="#1a1a1a">W69-C10</text><text x="572.4" y="380.3" class="wl" fill="#1a1a1a">W23-17</text><text x="554.6" y="390.2" class="wl" fill="#1a1a1a">W64</text><text x="557.4" y="410.2" class="wl" fill="#1a1a1a">W23-4</text>
<path d="M319.3,442.4 L335.8,442.4 L335.8,466.8 L345,466.8 L327.5,483.5 L310,466.8 L319.3,466.8 Z" fill="#ffff00" stroke="#3c5478" stroke-width="2" stroke-linejoin="miter"/>
<rect x="6.0" y="480.4" width="642.4" height="253.8" rx="40.0" ry="40.0" fill="none" stroke="#000" stroke-width="2.4"/>
<rect x="26.2" y="507.0" width="285.9" height="222.0" rx="35.0" ry="35.0" fill="none" stroke="#000" stroke-width="2.0"/>
<rect x="343.4" y="506.5" width="286.0" height="222.5" rx="35.0" ry="35.0" fill="none" stroke="#000" stroke-width="2.0"/>
<text x="165.1" y="496.7" class="tt" font-size="18.8" fill="#df7422" textLength="344.0" lengthAdjust="spacingAndGlyphs">Geothermal power generation analysis</text>
<text x="94.4" y="523.3" class="tt" font-size="13.6" fill="#e41e24" textLength="150.0" lengthAdjust="spacingAndGlyphs">Organic Rankine cycle</text>
<text x="405.5" y="523.9" class="tt" font-size="13.6" fill="#e41e24" textLength="21.4" lengthAdjust="spacingAndGlyphs">CO</text>
<text x="427.3" y="526.6" class="tt" font-size="9.5" fill="#e41e24">2</text>
<text x="435.1" y="523.9" class="tt" font-size="13.6" fill="#e41e24" textLength="128.9" lengthAdjust="spacingAndGlyphs">direct cycle system</text>
<rect x="48.0" y="624.2" width="238.1" height="98.0" fill="#fff" stroke="#606060" stroke-width="1.1"/><clipPath id="resL"><rect x="48.0" y="624.2" width="238.1" height="98.0"/></clipPath><g clip-path="url(#resL)"><path d="M46.00,704.07 L48.00,703.72 L50.00,703.35 L52.00,702.97 L54.00,702.57 L56.00,702.14 L58.00,701.70 L60.00,701.24 L62.00,700.76 L64.00,700.27 L66.00,699.75 L68.00,699.21 L70.00,698.66 L72.00,698.09 L74.00,697.50 L76.00,696.89 L78.00,696.26 L80.00,695.62 L82.00,694.97 L84.00,694.29 L86.00,693.61 L88.00,692.91 L90.00,692.20 L92.00,691.47 L94.00,690.74 L96.00,690.00 L98.00,689.25 L100.00,688.50 L102.00,687.74 L104.00,686.98 L106.00,686.22 L108.00,685.47 L110.00,684.71 L112.00,683.96 L114.00,683.21 L116.00,682.48 L118.00,681.75 L120.00,681.04 L122.00,680.35 L124.00,679.66 L126.00,679.00 L128.00,678.36 L130.00,677.74 L132.00,677.15 L134.00,676.58 L136.00,676.04 L138.00,675.53 L140.00,675.05 L142.00,674.60 L144.00,674.19 L146.00,673.81 L148.00,673.47 L150.00,673.17 L152.00,672.91 L154.00,672.69 L156.00,672.51 L158.00,672.37 L160.00,672.27 L162.00,672.21 L164.00,672.20 L166.00,672.23 L168.00,672.30 L170.00,672.42 L172.00,672.57 L174.00,672.77 L176.00,673.01 L178.00,673.29 L180.00,673.60 L182.00,673.96 L184.00,674.35 L186.00,674.77 L188.00,675.23 L190.00,675.73 L192.00,676.25 L194.00,676.80 L196.00,677.38 L198.00,677.99 L200.00,678.61 L202.00,679.26 L204.00,679.93 L206.00,680.62 L208.00,681.33 L210.00,682.04 L212.00,682.77 L214.00,683.51 L216.00,684.26 L218.00,685.01 L220.00,685.77 L222.00,686.53 L224.00,687.29 L226.00,688.05 L228.00,688.80 L230.00,689.55 L232.00,690.30 L234.00,691.04 L236.00,691.76 L238.00,692.48 L240.00,693.19 L242.00,693.88 L244.00,694.56 L246.00,695.23 L248.00,695.88 L250.00,696.52 L252.00,697.13 L254.00,697.74 L256.00,698.32 L258.00,698.88 L260.00,699.43 L262.00,699.96 L264.00,700.47 L266.00,700.96 L268.00,701.43 L270.00,701.88 L272.00,702.31 L274.00,702.73 L276.00,703.13 L278.00,703.50 L280.00,703.86 L282.00,704.21 L284.00,704.53 L286.00,704.84 L288.00,705.13 L288.10,705.15" fill="none" stroke="#16a8e2" stroke-width="7"/><path d="M46.00,713.47 L48.00,713.12 L50.00,712.75 L52.00,712.37 L54.00,711.97 L56.00,711.54 L58.00,711.10 L60.00,710.64 L62.00,710.16 L64.00,709.67 L66.00,709.15 L68.00,708.61 L70.00,708.06 L72.00,707.49 L74.00,706.90 L76.00,706.29 L78.00,705.66 L80.00,705.02 L82.00,704.37 L84.00,703.69 L86.00,703.01 L88.00,702.31 L90.00,701.60 L92.00,700.87 L94.00,700.14 L96.00,699.40 L98.00,698.65 L100.00,697.90 L102.00,697.14 L104.00,696.38 L106.00,695.62 L108.00,694.87 L110.00,694.11 L112.00,693.36 L114.00,692.61 L116.00,691.88 L118.00,691.15 L120.00,690.44 L122.00,689.75 L124.00,689.06 L126.00,688.40 L128.00,687.76 L130.00,687.14 L132.00,686.55 L134.00,685.98 L136.00,685.44 L138.00,684.93 L140.00,684.45 L142.00,684.00 L144.00,683.59 L146.00,683.21 L148.00,682.87 L150.00,682.57 L152.00,682.31 L154.00,682.09 L156.00,681.91 L158.00,681.77 L160.00,681.67 L162.00,681.61 L164.00,681.60 L166.00,681.63 L168.00,681.70 L170.00,681.82 L172.00,681.97 L174.00,682.17 L176.00,682.41 L178.00,682.69 L180.00,683.00 L182.00,683.36 L184.00,683.75 L186.00,684.17 L188.00,684.63 L190.00,685.13 L192.00,685.65 L194.00,686.20 L196.00,686.78 L198.00,687.39 L200.00,688.01 L202.00,688.66 L204.00,689.33 L206.00,690.02 L208.00,690.73 L210.00,691.44 L212.00,692.17 L214.00,692.91 L216.00,693.66 L218.00,694.41 L220.00,695.17 L222.00,695.93 L224.00,696.69 L226.00,697.45 L228.00,698.20 L230.00,698.95 L232.00,699.70 L234.00,700.44 L236.00,701.16 L238.00,701.88 L240.00,702.59 L242.00,703.28 L244.00,703.96 L246.00,704.63 L248.00,705.28 L250.00,705.92 L252.00,706.53 L254.00,707.14 L256.00,707.72 L258.00,708.28 L260.00,708.83 L262.00,709.36 L264.00,709.87 L266.00,710.36 L268.00,710.83 L270.00,711.28 L272.00,711.71 L274.00,712.13 L276.00,712.53 L278.00,712.90 L280.00,713.26 L282.00,713.61 L284.00,713.93 L286.00,714.24 L288.00,714.53 L288.10,714.55" fill="none" stroke="#2a2a2a" stroke-width="1.1"/><path d="M133.00,673.36 L134.00,673.04 L135.00,672.72 L136.00,672.42 L137.00,672.12 L138.00,671.83 L139.00,671.56 L140.00,671.29 L141.00,671.03 L142.00,670.78 L143.00,670.54 L144.00,670.31 L145.00,670.10 L146.00,669.89 L147.00,669.69 L148.00,669.51 L149.00,669.33 L150.00,669.17 L151.00,669.02 L152.00,668.88 L153.00,668.75 L154.00,668.63 L155.00,668.52 L156.00,668.43 L157.00,668.35 L158.00,668.28 L159.00,668.22 L160.00,668.17 L161.00,668.14 L162.00,668.11 L163.00,668.10 L164.00,668.11 L165.00,668.12 L166.00,668.15 L167.00,668.18 L168.00,668.23 L169.00,668.30 L170.00,668.37 L171.00,668.46 L172.00,668.55 L173.00,668.66 L174.00,668.79 L175.00,668.92 L176.00,669.06 L177.00,669.22 L178.00,669.39 L179.00,669.57 L180.00,669.76 L181.00,669.96 L182.00,670.17 L183.00,670.39 L184.00,670.62 L185.00,670.86 L186.00,671.12 L187.00,671.38 L188.00,671.65 L189.00,671.93 L190.00,672.23 L190.00,672.23 L189.00,672.37 L188.00,672.51 L187.00,672.64 L186.00,672.77 L185.00,672.89 L184.00,673.01 L183.00,673.12 L182.00,673.22 L181.00,673.32 L180.00,673.42 L179.00,673.51 L178.00,673.60 L177.00,673.68 L176.00,673.76 L175.00,673.68 L174.00,673.57 L173.00,673.47 L172.00,673.37 L171.00,673.29 L170.00,673.22 L169.00,673.15 L168.00,673.10 L167.00,673.06 L166.00,673.03 L165.00,673.01 L164.00,673.00 L163.00,673.00 L162.00,673.01 L161.00,673.04 L160.00,673.07 L159.00,673.11 L158.00,673.17 L157.00,673.23 L156.00,673.31 L155.00,673.39 L154.00,673.49 L153.00,673.59 L152.00,673.71 L151.00,673.83 L150.00,673.97 L149.00,674.12 L148.00,674.27 L147.00,674.39 L146.00,674.35 L145.00,674.31 L144.00,674.26 L143.00,674.21 L142.00,674.15 L141.00,674.09 L140.00,674.02 L139.00,673.94 L138.00,673.86 L137.00,673.77 L136.00,673.68 L135.00,673.58 L134.00,673.47 L133.00,673.36 Z" fill="#ffff00" stroke="#2a2a10" stroke-width="0.85" stroke-linejoin="round"/></g>
<rect x="369.9" y="626.5" width="229.8" height="97.3" fill="#fff" stroke="#606060" stroke-width="1.1"/><clipPath id="resR"><rect x="369.9" y="626.5" width="229.8" height="97.3"/></clipPath><g clip-path="url(#resR)"><path d="M367.90,692.82 L369.90,692.67 L371.90,692.51 L373.90,692.34 L375.90,692.15 L377.90,691.94 L379.90,691.71 L381.90,691.46 L383.90,691.19 L385.90,690.90 L387.90,690.59 L389.90,690.24 L391.90,689.88 L393.90,689.48 L395.90,689.06 L397.90,688.61 L399.90,688.13 L401.90,687.62 L403.90,687.08 L405.90,686.51 L407.90,685.91 L409.90,685.27 L411.90,684.61 L413.90,683.91 L415.90,683.18 L417.90,682.43 L419.90,681.64 L421.90,680.83 L423.90,679.99 L425.90,679.13 L427.90,678.24 L429.90,677.34 L431.90,676.42 L433.90,675.48 L435.90,674.53 L437.90,673.58 L439.90,672.62 L441.90,671.65 L443.90,670.69 L445.90,669.74 L447.90,668.80 L449.90,667.87 L451.90,666.96 L453.90,666.08 L455.90,665.22 L457.90,664.39 L459.90,663.60 L461.90,662.85 L463.90,662.15 L465.90,661.49 L467.90,660.88 L469.90,660.33 L471.90,659.84 L473.90,659.40 L475.90,659.03 L477.90,658.73 L479.90,658.49 L481.90,658.33 L483.90,658.23 L485.90,658.20 L487.90,658.24 L489.90,658.35 L491.90,658.54 L493.90,658.79 L495.90,659.10 L497.90,659.49 L499.90,659.93 L501.90,660.44 L503.90,661.00 L505.90,661.61 L507.90,662.28 L509.90,663.00 L511.90,663.76 L513.90,664.55 L515.90,665.39 L517.90,666.25 L519.90,667.14 L521.90,668.05 L523.90,668.99 L525.90,669.93 L527.90,670.89 L529.90,671.85 L531.90,672.81 L533.90,673.77 L535.90,674.72 L537.90,675.67 L539.90,676.60 L541.90,677.52 L543.90,678.42 L545.90,679.30 L547.90,680.16 L549.90,680.99 L551.90,681.80 L553.90,682.58 L555.90,683.33 L557.90,684.05 L559.90,684.74 L561.90,685.40 L563.90,686.03 L565.90,686.63 L567.90,687.19 L569.90,687.73 L571.90,688.23 L573.90,688.70 L575.90,689.15 L577.90,689.57 L579.90,689.95 L581.90,690.31 L583.90,690.65 L585.90,690.96 L587.90,691.25 L589.90,691.51 L591.90,691.76 L593.90,691.98 L595.90,692.19 L597.90,692.38 L599.90,692.55 L601.70,692.69" fill="none" stroke="#16a8e2" stroke-width="7"/><path d="M367.90,703.22 L369.90,703.07 L371.90,702.91 L373.90,702.74 L375.90,702.55 L377.90,702.34 L379.90,702.11 L381.90,701.86 L383.90,701.59 L385.90,701.30 L387.90,700.99 L389.90,700.64 L391.90,700.28 L393.90,699.88 L395.90,699.46 L397.90,699.01 L399.90,698.53 L401.90,698.02 L403.90,697.48 L405.90,696.91 L407.90,696.31 L409.90,695.67 L411.90,695.01 L413.90,694.31 L415.90,693.58 L417.90,692.83 L419.90,692.04 L421.90,691.23 L423.90,690.39 L425.90,689.53 L427.90,688.64 L429.90,687.74 L431.90,686.82 L433.90,685.88 L435.90,684.93 L437.90,683.98 L439.90,683.02 L441.90,682.05 L443.90,681.09 L445.90,680.14 L447.90,679.20 L449.90,678.27 L451.90,677.36 L453.90,676.48 L455.90,675.62 L457.90,674.79 L459.90,674.00 L461.90,673.25 L463.90,672.55 L465.90,671.89 L467.90,671.28 L469.90,670.73 L471.90,670.24 L473.90,669.80 L475.90,669.43 L477.90,669.13 L479.90,668.89 L481.90,668.73 L483.90,668.63 L485.90,668.60 L487.90,668.64 L489.90,668.75 L491.90,668.94 L493.90,669.19 L495.90,669.50 L497.90,669.89 L499.90,670.33 L501.90,670.84 L503.90,671.40 L505.90,672.01 L507.90,672.68 L509.90,673.40 L511.90,674.16 L513.90,674.95 L515.90,675.79 L517.90,676.65 L519.90,677.54 L521.90,678.45 L523.90,679.39 L525.90,680.33 L527.90,681.29 L529.90,682.25 L531.90,683.21 L533.90,684.17 L535.90,685.12 L537.90,686.07 L539.90,687.00 L541.90,687.92 L543.90,688.82 L545.90,689.70 L547.90,690.56 L549.90,691.39 L551.90,692.20 L553.90,692.98 L555.90,693.73 L557.90,694.45 L559.90,695.14 L561.90,695.80 L563.90,696.43 L565.90,697.03 L567.90,697.59 L569.90,698.13 L571.90,698.63 L573.90,699.10 L575.90,699.55 L577.90,699.97 L579.90,700.35 L581.90,700.71 L583.90,701.05 L585.90,701.36 L587.90,701.65 L589.90,701.91 L591.90,702.16 L593.90,702.38 L595.90,702.59 L597.90,702.78 L599.90,702.95 L601.70,703.09" fill="none" stroke="#2a2a2a" stroke-width="1.1"/><path d="M443.00,667.63 L444.00,667.13 L445.00,666.63 L446.00,666.13 L447.00,665.64 L448.00,665.15 L449.00,664.67 L450.00,664.19 L451.00,663.72 L452.00,663.25 L453.00,662.79 L454.00,662.33 L455.00,661.89 L456.00,661.45 L457.00,661.02 L458.00,660.60 L459.00,660.19 L460.00,659.78 L461.00,659.39 L462.00,659.01 L463.00,658.65 L464.00,658.29 L465.00,657.95 L466.00,657.62 L467.00,657.30 L468.00,657.00 L469.00,656.71 L470.00,656.44 L471.00,656.18 L472.00,655.94 L473.00,655.71 L474.00,655.50 L475.00,655.30 L476.00,655.12 L477.00,654.96 L478.00,654.82 L479.00,654.69 L480.00,654.58 L481.00,654.49 L482.00,654.42 L483.00,654.37 L484.00,654.33 L485.00,654.31 L486.00,654.31 L487.00,654.32 L488.00,654.36 L489.00,654.41 L490.00,654.48 L491.00,654.57 L492.00,654.68 L493.00,654.81 L494.00,654.95 L495.00,655.11 L496.00,655.28 L497.00,655.48 L498.00,655.69 L499.00,655.91 L500.00,656.15 L501.00,656.41 L502.00,656.68 L503.00,656.97 L504.00,657.27 L505.00,657.59 L506.00,657.92 L507.00,658.26 L508.00,658.62 L509.00,658.99 L510.00,659.37 L511.00,659.76 L512.00,660.16 L513.00,660.57 L514.00,661.00 L515.00,661.43 L516.00,661.87 L517.00,662.32 L518.00,662.77 L519.00,663.24 L519.00,663.24 L518.00,663.22 L517.00,663.21 L516.00,663.18 L515.00,663.16 L514.00,663.13 L513.00,663.09 L512.00,663.06 L511.00,663.02 L510.00,662.99 L509.00,662.95 L508.00,662.91 L507.00,662.87 L506.00,662.84 L505.00,662.80 L504.00,662.77 L503.00,662.73 L502.00,662.70 L501.00,662.68 L500.00,662.65 L499.00,662.42 L498.00,662.21 L497.00,662.01 L496.00,661.82 L495.00,661.65 L494.00,661.50 L493.00,661.37 L492.00,661.25 L491.00,661.15 L490.00,661.06 L489.00,661.00 L488.00,660.95 L487.00,660.91 L486.00,660.90 L485.00,660.90 L484.00,660.93 L483.00,660.96 L482.00,661.02 L481.00,661.09 L480.00,661.18 L479.00,661.29 L478.00,661.42 L477.00,661.56 L476.00,661.72 L475.00,661.89 L474.00,662.08 L473.00,662.29 L472.00,662.51 L471.00,662.75 L470.00,663.00 L469.00,663.27 L468.00,663.55 L467.00,663.85 L466.00,664.16 L465.00,664.48 L464.00,664.81 L463.00,665.16 L462.00,665.51 L461.00,665.66 L460.00,665.80 L459.00,665.95 L458.00,666.09 L457.00,666.23 L456.00,666.36 L455.00,666.50 L454.00,666.62 L453.00,666.75 L452.00,666.87 L451.00,666.98 L450.00,667.09 L449.00,667.19 L448.00,667.28 L447.00,667.37 L446.00,667.45 L445.00,667.52 L444.00,667.58 L443.00,667.63 Z" fill="#ffff00" stroke="#2a2a10" stroke-width="0.85" stroke-linejoin="round"/></g>
<rect x="149.2" y="612.3" width="4.6" height="57.7" fill="#ff0000"/>
<rect x="169.9" y="612.0" width="4.1" height="58.6" fill="#0000ff"/>
<rect x="470.5" y="595.4" width="3.8" height="61.3" fill="#ff0000"/>
<rect x="487.3" y="595.4" width="3.8" height="59.9" fill="#0000ff"/>
<polyline points="76.5,563.0 76.5,542.3 113.2,542.3" fill="none" stroke="#e3a472" stroke-width="1.10" stroke-linejoin="miter" />
<polyline points="85.8,569.2 89.3,569.2 89.3,587.5 106.4,587.5" fill="none" stroke="#d23c3c" stroke-width="1.10" stroke-linejoin="miter" />
<polyline points="106.4,593.3 76.6,593.3 76.6,612.5 149.5,612.5" fill="none" stroke="#d23c3c" stroke-width="1.10" stroke-linejoin="miter" />
<polyline points="120.1,549.3 120.1,556.1 146.2,556.1" fill="none" stroke="#4a80e0" stroke-width="1.30" stroke-linejoin="miter" />
<polyline points="157.6,556.1 179.7,556.1 179.7,587.5 156.7,587.5" fill="none" stroke="#4a80e0" stroke-width="1.30" stroke-linejoin="miter" />
<polyline points="156.7,593.6 191.3,593.6 191.3,578.3 208.4,578.3" fill="none" stroke="#3c4ec4" stroke-width="1.10" stroke-linejoin="miter" />
<line x1="44.1" y1="568.9" x2="51.7" y2="568.9" stroke="#333" stroke-width="1.10"/><line x1="60.9" y1="568.9" x2="67.5" y2="568.9" stroke="#333" stroke-width="1.10"/><circle cx="56.3" cy="568.9" r="4.5" fill="#fff" stroke="#333" stroke-width="1.1"/><path d="M52.7,571.7 C53.7,568.3 54.7,566.7 55.5,566.9 C56.4,567.3 57.1,570.5 58.2,570.7 L59.6,570.8" fill="none" stroke="#333" stroke-width="1.0"/>
<polygon points="67.5,560.8 85.8,564.3 85.8,573.9 67.5,576.7" fill="#ffff00" stroke="#2a2a2a" stroke-width="1.1" stroke-linejoin="round"/>
<circle cx="120.1" cy="542.4" r="6.9" fill="#fff" stroke="#2fae62" stroke-width="1.3"/><polyline points="116.9,537.8 123.8,542.4 116.9,547.2" fill="none" stroke="#1a1a1a" stroke-width="1.20" stroke-linejoin="miter" /><line x1="116.9" y1="537.5" x2="142.6" y2="537.5" stroke="#444" stroke-width="1.10"/><line x1="116.9" y1="547.2" x2="142.6" y2="547.2" stroke="#1a1a1a" stroke-width="1.10"/><polygon points="128.6,547.2 132.6,545.3 132.6,549.1" fill="#111"/>
<circle cx="151.9" cy="556.0" r="5.6" fill="#fff" stroke="#222" stroke-width="1.2"/>
<polygon points="150,554 154.6,556 150,558" fill="#4a80e0"/>
<line x1="146.2" y1="556.1" x2="150.0" y2="556.1" stroke="#4a80e0" stroke-width="1.30"/>
<linearGradient id="hxg" gradientUnits="userSpaceOnUse" x1="108" y1="0" x2="155" y2="0"><stop offset="0" stop-color="#d8202a"/><stop offset="0.35" stop-color="#d88050"/><stop offset="0.6" stop-color="#e8c050"/><stop offset="0.75" stop-color="#d0d0f4"/><stop offset="0.85" stop-color="#5070e0"/><stop offset="1" stop-color="#2040c8"/></linearGradient>
<rect x="106.4" y="584.5" width="50.3" height="13.2" fill="#fff" stroke="#222" stroke-width="1.1"/>
<polyline points="108.5,587.2 110.0,590.0 111.5,587.2 113.0,590.0 114.5,587.2 116.0,590.0 117.5,587.2 119.0,590.0 120.5,587.2 122.0,590.0 123.5,587.2 125.0,590.0 126.5,587.2 128.0,590.0 129.5,587.2 131.0,590.0 132.5,587.2 134.0,590.0 135.5,587.2 137.0,590.0 138.5,587.2 140.0,590.0 141.5,587.2 143.0,590.0 144.5,587.2 146.0,590.0 147.5,587.2 149.0,590.0 150.5,587.2 152.0,590.0 153.5,587.2 155.0,590.0" fill="none" stroke="url(#hxg)" stroke-width="1.20" stroke-linejoin="miter" />
<polyline points="108.5,591.6 110.0,594.4 111.5,591.6 113.0,594.4 114.5,591.6 116.0,594.4 117.5,591.6 119.0,594.4 120.5,591.6 122.0,594.4 123.5,591.6 125.0,594.4 126.5,591.6 128.0,594.4 129.5,591.6 131.0,594.4 132.5,591.6 134.0,594.4 135.5,591.6 137.0,594.4 138.5,591.6 140.0,594.4 141.5,591.6 143.0,594.4 144.5,591.6 146.0,594.4 147.5,591.6 149.0,594.4 150.5,591.6 152.0,594.4 153.5,591.6 155.0,594.4" fill="none" stroke="url(#hxg)" stroke-width="1.20" stroke-linejoin="miter" />
<polyline points="208.4,572.4 208.4,584.4 243.9,584.4 243.9,565.3 232.0,565.3" fill="none" stroke="#3c4ec4" stroke-width="1.10" stroke-linejoin="miter" />
<line x1="208.4" y1="572.4" x2="216.0" y2="572.4" stroke="#3c4ec4" stroke-width="1.10"/>
<polygon points="215,570.3 219,572.4 215,574.5" fill="#111"/>
<rect x="218.3" y="567.2" width="12.6" height="10.3" rx="2.6" fill="#fff" stroke="#1a1a1a" stroke-width="1.3"/>
<line x1="227.1" y1="572.7" x2="231.5" y2="572.7" stroke="#1010d0" stroke-width="2.00"/>
<polyline points="225.2,571.0 225.2,565.3 234.5,565.3" fill="none" stroke="#111" stroke-width="2.00" stroke-linejoin="miter" />
<g transform="rotate(0 212.8 569.6)"><line x1="209.9" y1="569.6" x2="215.7" y2="569.6" stroke="#222" stroke-width="1.1"/><line x1="212.8" y1="569.6" x2="212.8" y2="573.8" stroke="#222" stroke-width="1.1"/></g>
<g transform="rotate(0 212.8 582.0)"><line x1="209.9" y1="582.0" x2="215.7" y2="582.0" stroke="#222" stroke-width="1.1"/><line x1="212.8" y1="582.0" x2="212.8" y2="586.8" stroke="#222" stroke-width="1.1"/></g>
<polyline points="243.9,577.4 259.7,577.4 259.7,613.0" fill="none" stroke="#3c4ec4" stroke-width="1.10" stroke-linejoin="miter" />
<line x1="256.5" y1="584.0" x2="256.5" y2="589.6" stroke="#222" stroke-width="1.10"/><line x1="256.5" y1="586.6" x2="262.6" y2="586.6" stroke="#222" stroke-width="1.10"/>
<polyline points="259.7,591.5 274.3,591.5 274.3,586.3 289.0,586.3" fill="none" stroke="#333" stroke-width="1.10" stroke-linejoin="miter" />
<g transform="rotate(0 266.7 589.4)"><line x1="263.8" y1="589.4" x2="269.6" y2="589.4" stroke="#222" stroke-width="1.1"/><line x1="266.7" y1="589.4" x2="266.7" y2="594.2" stroke="#222" stroke-width="1.1"/></g>
<polyline points="259.7,598.2 199.4,598.2 199.4,612.4" fill="none" stroke="#3c4ec4" stroke-width="1.10" stroke-linejoin="miter" />
<g transform="rotate(0 254.0 594.8)"><line x1="250.9" y1="594.8" x2="257.1" y2="594.8" stroke="#222" stroke-width="1.1"/><line x1="254.0" y1="594.8" x2="254.0" y2="601.2" stroke="#222" stroke-width="1.1"/></g>
<line x1="262.4" y1="603.0" x2="262.4" y2="609.5" stroke="#222" stroke-width="1.10"/><line x1="256.5" y1="606.2" x2="262.4" y2="606.2" stroke="#222" stroke-width="1.10"/>
<line x1="174.0" y1="612.4" x2="211.2" y2="612.4" stroke="#3c4ec4" stroke-width="1.10"/><line x1="231.5" y1="612.6" x2="259.7" y2="612.6" stroke="#3c4ec4" stroke-width="1.10"/>
<polygon points="211.2,606.5 228.7,603.7 228.7,620.5 211.2,616.9" fill="#ffffff" stroke="#2a2a2a" stroke-width="1.2" stroke-linejoin="round"/><line x1="217.8" y1="612.6" x2="225.4" y2="612.6" stroke="#15158a" stroke-width="2.60"/><polygon points="214.8,612.6 219.3,609.3 219.3,615.9" fill="#15158a"/><rect x="228.6" y="610.1" width="2.9" height="4.9" fill="#5a7cc0" stroke="#2a3a8a" stroke-width="0.6"/>
<line x1="234.0" y1="615.2" x2="270.7" y2="617.6" stroke="#444" stroke-width="1.00"/>
<polyline points="424.2,557.5 424.2,538.7 481.8,538.7 481.8,544.7" fill="none" stroke="#e3a472" stroke-width="1.10" stroke-linejoin="miter" />
<polyline points="434.0,563.8 439.5,563.8 439.5,595.4 471.0,595.4" fill="none" stroke="#dc4646" stroke-width="1.10" stroke-linejoin="miter" />
<polyline points="490.8,595.6 498.7,595.6 498.7,586.3 508.0,586.3" fill="none" stroke="#3c4ec4" stroke-width="1.10" stroke-linejoin="miter" />
<polyline points="481.8,558.5 481.8,565.4 553.0,565.4 553.0,586.2" fill="none" stroke="#3c4ec4" stroke-width="1.10" stroke-linejoin="miter" />
<line x1="393.2" y1="564.4" x2="400.3" y2="564.4" stroke="#333" stroke-width="1.10"/><line x1="409.5" y1="564.4" x2="416.4" y2="564.4" stroke="#333" stroke-width="1.10"/><circle cx="404.9" cy="564.4" r="4.5" fill="#fff" stroke="#333" stroke-width="1.1"/><path d="M401.3,567.2 C402.3,563.8 403.3,562.2 404.1,562.4 C405.0,562.8 405.7,566.0 406.8,566.2 L408.2,566.3" fill="none" stroke="#333" stroke-width="1.0"/>
<polygon points="416.4,555.8 434.0,559.2 434.0,569.7 416.4,572.2" fill="#ffff00" stroke="#2a2a2a" stroke-width="1.1" stroke-linejoin="round"/>
<circle cx="481.8" cy="551.8" r="6.9" fill="#fff" stroke="#2fae62" stroke-width="1.3"/><polyline points="478.6,547.2 485.5,551.8 478.6,556.6" fill="none" stroke="#1a1a1a" stroke-width="1.20" stroke-linejoin="miter" /><line x1="478.6" y1="546.9" x2="516.0" y2="546.9" stroke="#444" stroke-width="1.10"/><line x1="478.6" y1="556.6" x2="516.0" y2="556.6" stroke="#555" stroke-width="1.10"/>
<line x1="549.2" y1="573.0" x2="549.2" y2="579.1" stroke="#222" stroke-width="1.10"/><line x1="549.2" y1="575.6" x2="555.3" y2="575.6" stroke="#222" stroke-width="1.10"/>
<line x1="527.8" y1="586.2" x2="544.3" y2="586.2" stroke="#3c4ec4" stroke-width="1.10"/>
<polyline points="544.3,586.2 583.7,586.2 583.7,580.3 589.8,580.3" fill="none" stroke="#444" stroke-width="1.10" stroke-linejoin="miter" />
<g transform="rotate(0 561.0 582.9)"><line x1="557.5" y1="582.9" x2="564.5" y2="582.9" stroke="#222" stroke-width="1.1"/><line x1="561.0" y1="582.9" x2="561.0" y2="589.3" stroke="#222" stroke-width="1.1"/></g>
<polygon points="507.9,579.8 525.2,576.8 525.2,594.4 507.9,591.3" fill="#ffffff" stroke="#2a2a2a" stroke-width="1.2" stroke-linejoin="round"/><line x1="515.2" y1="586.2" x2="522.1" y2="586.2" stroke="#15158a" stroke-width="2.60"/><polygon points="512.2,586.2 516.7,582.9 516.7,589.5" fill="#15158a"/><rect x="525.4" y="583.2" width="2.6" height="6.1" fill="#5a7cc0" stroke="#2a3a8a" stroke-width="0.6"/>
</svg></body></html>
